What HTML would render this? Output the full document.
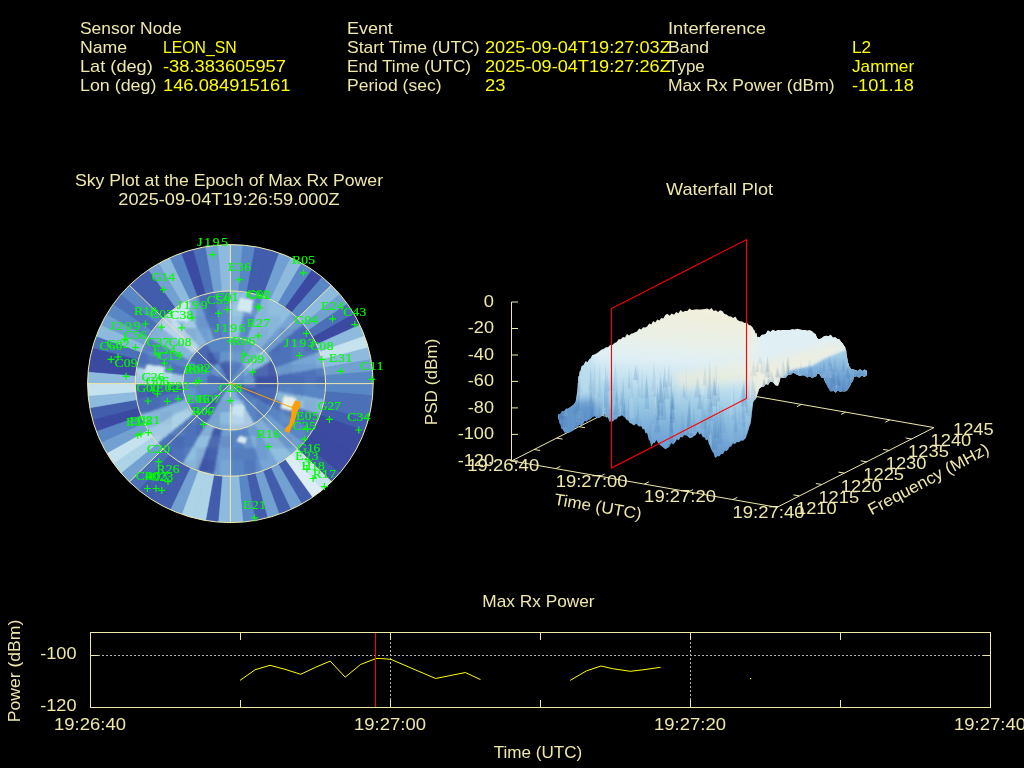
<!DOCTYPE html>
<html><head><meta charset="utf-8"><style>
html,body{margin:0;padding:0;background:#000;width:1024px;height:768px;overflow:hidden}
svg{display:block;will-change:transform}
text{font-family:"Liberation Sans",sans-serif}
.sat{font-family:"Liberation Serif",serif}
</style></head><body>
<svg width="1024" height="768" viewBox="0 0 1024 768">
<rect width="1024" height="768" fill="#000"/>
<text x="80.00" y="34.00" fill="#eee8aa" font-size="16.4" textLength="101.72" lengthAdjust="spacingAndGlyphs">Sensor Node</text>
<text x="80.00" y="53.00" fill="#eee8aa" font-size="16.4" textLength="47.22" lengthAdjust="spacingAndGlyphs">Name</text>
<text x="80.00" y="72.00" fill="#eee8aa" font-size="16.4" textLength="72.77" lengthAdjust="spacingAndGlyphs">Lat (deg)</text>
<text x="80.00" y="91.00" fill="#eee8aa" font-size="16.4" textLength="76.33" lengthAdjust="spacingAndGlyphs">Lon (deg)</text>
<text x="163.00" y="53.00" fill="#ffff00" font-size="16.4" textLength="73.72" lengthAdjust="spacingAndGlyphs">LEON_SN</text>
<text x="163.00" y="72.00" fill="#ffff00" font-size="16.4" textLength="122.94" lengthAdjust="spacingAndGlyphs">-38.383605957</text>
<text x="163.00" y="91.00" fill="#ffff00" font-size="16.4" textLength="127.34" lengthAdjust="spacingAndGlyphs">146.084915161</text>
<text x="347.00" y="34.00" fill="#eee8aa" font-size="16.4" textLength="45.84" lengthAdjust="spacingAndGlyphs">Event</text>
<text x="347.00" y="53.00" fill="#eee8aa" font-size="16.4" textLength="132.72" lengthAdjust="spacingAndGlyphs">Start Time (UTC)</text>
<text x="347.00" y="72.00" fill="#eee8aa" font-size="16.4" textLength="124.02" lengthAdjust="spacingAndGlyphs">End Time (UTC)</text>
<text x="347.00" y="91.00" fill="#eee8aa" font-size="16.4" textLength="94.50" lengthAdjust="spacingAndGlyphs">Period (sec)</text>
<text x="485.00" y="53.00" fill="#ffff00" font-size="16.4" textLength="185.72" lengthAdjust="spacingAndGlyphs">2025-09-04T19:27:03Z</text>
<text x="485.00" y="72.00" fill="#ffff00" font-size="16.4" textLength="185.72" lengthAdjust="spacingAndGlyphs">2025-09-04T19:27:26Z</text>
<text x="485.00" y="91.00" fill="#ffff00" font-size="16.4" textLength="20.38" lengthAdjust="spacingAndGlyphs">23</text>
<text x="668.00" y="34.00" fill="#eee8aa" font-size="16.4" textLength="97.91" lengthAdjust="spacingAndGlyphs">Interference</text>
<text x="668.00" y="53.00" fill="#eee8aa" font-size="16.4" textLength="41.09" lengthAdjust="spacingAndGlyphs">Band</text>
<text x="668.00" y="72.00" fill="#eee8aa" font-size="16.4" textLength="36.77" lengthAdjust="spacingAndGlyphs">Type</text>
<text x="668.00" y="91.00" fill="#eee8aa" font-size="16.4" textLength="166.61" lengthAdjust="spacingAndGlyphs">Max Rx Power (dBm)</text>
<text x="852.00" y="53.00" fill="#ffff00" font-size="16.4" textLength="19.11" lengthAdjust="spacingAndGlyphs">L2</text>
<text x="852.00" y="72.00" fill="#ffff00" font-size="16.4" textLength="62.14" lengthAdjust="spacingAndGlyphs">Jammer</text>
<text x="852.00" y="91.00" fill="#ffff00" font-size="16.4" textLength="61.81" lengthAdjust="spacingAndGlyphs">-101.18</text>
<text x="74.92" y="186.00" fill="#eee8aa" font-size="16.4" textLength="308.16" lengthAdjust="spacingAndGlyphs">Sky Plot at the Epoch of Max Rx Power</text>
<text x="118.31" y="205.00" fill="#eee8aa" font-size="16.4" textLength="221.38" lengthAdjust="spacingAndGlyphs">2025-09-04T19:26:59.000Z</text>
<path d="M90 655.5H990" stroke="#b4b4b4" stroke-width="1" stroke-dasharray="2 2" fill="none"/>
<path d="M390.5 632V707.5M690.5 632V707.5" stroke="#b4b4b4" stroke-width="1" stroke-dasharray="2 2" stroke-dashoffset="2" fill="none"/>
<path d="M240.5 632.5v7.5M240.5 707.5v-7.5M540.5 632.5v7.5M540.5 707.5v-7.5M840.5 632.5v7.5M840.5 707.5v-7.5M390.5 632.5v7.5M390.5 707.5v-7.5M690.5 632.5v7.5M690.5 707.5v-7.5M90.5 655.5h7.5M990.5 655.5h-7.5" stroke="#eee8aa" stroke-width="1" fill="none"/>
<path d="M240.0 680.4 L255.0 669.8 L270.0 665.3 L285.0 669.3 L300.7 674.3 L315.7 667.2 L330.2 661.1 L345.2 677.2 L360.5 664.5 L376.0 658.5 L380.3 658.5 L390.8 659.3 L435.6 678.5 L450.1 675.6 L465.4 672.5 L480.5 679.6 M570.2 680.4 L586.4 670.9 L601.0 666.0 L612.7 668.7 L630.3 671.3 L644.0 669.7 L660.6 667.3" stroke="#ffff00" stroke-width="1" fill="none"/>
<rect x="750" y="678" width="1.2" height="1.2" fill="#ffff00"/>
<path d="M375.5 632.5V707.5" stroke="#ff0000" stroke-width="1" fill="none"/>
<rect x="90.5" y="632.5" width="900.0" height="75.0" stroke="#eee8aa" stroke-width="1" fill="none"/>
<text x="40.16" y="659.00" fill="#eee8aa" font-size="16.4" textLength="36.34" lengthAdjust="spacingAndGlyphs">-100</text>
<text x="40.16" y="711.00" fill="#eee8aa" font-size="16.4" textLength="36.34" lengthAdjust="spacingAndGlyphs">-120</text>
<text x="54.05" y="730.00" fill="#eee8aa" font-size="16.4" textLength="71.91" lengthAdjust="spacingAndGlyphs">19:26:40</text>
<text x="354.05" y="730.00" fill="#eee8aa" font-size="16.4" textLength="71.91" lengthAdjust="spacingAndGlyphs">19:27:00</text>
<text x="654.05" y="730.00" fill="#eee8aa" font-size="16.4" textLength="71.91" lengthAdjust="spacingAndGlyphs">19:27:20</text>
<text x="954.05" y="730.00" fill="#eee8aa" font-size="16.4" textLength="71.91" lengthAdjust="spacingAndGlyphs">19:27:40</text>
<text x="482.36" y="607.00" fill="#eee8aa" font-size="16.4" textLength="112.28" lengthAdjust="spacingAndGlyphs">Max Rx Power</text>
<text x="493.74" y="758.00" fill="#eee8aa" font-size="16.4" textLength="88.52" lengthAdjust="spacingAndGlyphs">Time (UTC)</text>
<text x="-31.57" y="671.00" fill="#eee8aa" font-size="16.4" textLength="102.73" lengthAdjust="spacingAndGlyphs" transform="rotate(-90 19.8 671)">Power (dBm)</text>
<text x="666.02" y="195.00" fill="#eee8aa" font-size="16.4" textLength="106.97" lengthAdjust="spacingAndGlyphs">Waterfall Plot</text>
<path d="M511.7 460.9L668.7 381.2L934.0 427.6M534.1 449.5l6.0 1.0M556.6 438.1l6.0 1.0M579.0 426.7l6.0 1.0M601.4 415.4l6.0 1.0M623.8 404.0l6.0 1.0M646.3 392.6l6.0 1.0M712.9 388.9l-4.5 2.3M757.1 396.7l-4.5 2.3M801.4 404.4l-4.5 2.3M845.6 412.1l-4.5 2.3M889.8 419.9l-4.5 2.3" stroke="#eee8aa" stroke-width="1" fill="none"/>
<defs>
<linearGradient id="sg" gradientUnits="userSpaceOnUse" x1="0" y1="305" x2="0" y2="460" gradientTransform="translate(0,-51.4) skewY(4.9)"><stop offset="0" stop-color="#f1efdd"/><stop offset="0.17" stop-color="#eaf0e6"/><stop offset="0.32" stop-color="#e0eff5"/><stop offset="0.45" stop-color="#c4e2f0"/><stop offset="0.58" stop-color="#a3cee7"/><stop offset="0.71" stop-color="#86b7dd"/><stop offset="0.87" stop-color="#6b9fd2"/><stop offset="1" stop-color="#5b8fc6"/></linearGradient>
<linearGradient id="rg" gradientUnits="userSpaceOnUse" x1="0" y1="355" x2="0" y2="395"><stop offset="0" stop-color="#9fcbe6"/><stop offset="0.5" stop-color="#74a6d6"/><stop offset="1" stop-color="#5b8cc6"/></linearGradient>
<clipPath id="sc"><path d="M558.2 414.5 L560.2 414.1 L562.1 410.9 L564.0 411.6 L566.0 408.7 L567.8 408.8 L569.7 407.5 L571.5 406.2 L573.4 405.0 L575.2 402.5 L575.7 401.5 L576.2 399.0 L576.6 396.8 L577.1 392.2 L577.3 392.4 L577.5 389.5 L577.7 387.7 L577.8 382.9 L578.0 383.2 L578.2 380.1 L578.4 376.1 L579.1 376.5 L579.7 371.5 L580.4 371.5 L581.0 368.7 L581.7 366.3 L583.7 365.1 L585.6 361.3 L587.5 362.2 L589.5 359.1 L590.8 358.3 L592.1 355.2 L594.4 354.6 L596.7 353.2 L598.9 351.8 L601.2 349.8 L603.5 349.1 L605.8 347.2 L608.0 347.3 L610.3 344.7 L612.4 345.0 L614.5 343.0 L616.5 342.2 L618.6 339.2 L620.7 339.3 L623.0 337.0 L625.0 337.5 L627.0 334.1 L629.1 335.4 L631.1 333.8 L633.1 333.3 L635.1 332.3 L637.1 331.5 L639.1 328.4 L641.2 329.6 L643.2 327.2 L645.2 327.6 L647.2 326.4 L649.2 323.4 L651.2 324.4 L653.2 321.0 L655.2 322.5 L657.3 319.6 L659.3 320.4 L661.3 317.9 L663.3 318.4 L665.3 315.1 L667.3 313.8 L669.5 315.8 L671.7 313.4 L674.0 314.8 L676.2 312.1 L678.4 313.3 L680.6 310.0 L682.8 312.0 L685.0 310.9 L687.3 311.0 L689.5 308.6 L691.7 309.9 L693.9 309.7 L696.1 309.3 L698.3 309.6 L700.6 309.4 L702.8 309.2 L705.0 309.0 L707.2 308.6 L709.4 309.7 L711.5 307.9 L713.7 311.0 L715.8 310.3 L718.0 312.0 L720.1 310.2 L722.3 310.9 L724.5 314.0 L726.6 314.6 L728.8 316.3 L731.0 316.4 L733.2 318.1 L735.3 316.6 L737.5 320.0 L739.9 321.3 L742.2 321.6 L744.5 323.0 L746.9 322.5 L748.8 324.9 L750.8 325.5 L752.7 327.5 L753.6 329.4 L754.6 330.6 L755.5 333.5 L756.5 333.0 L757.4 338.0 L757.7 336.8 L759.7 337.2 L761.8 334.7 L763.8 334.8 L765.9 333.8 L767.9 330.6 L770.4 332.1 L772.9 329.7 L775.5 331.2 L778.0 330.1 L780.5 330.5 L783.0 329.9 L785.4 329.9 L787.7 329.9 L790.1 329.9 L792.5 329.3 L794.9 329.7 L797.2 328.8 L799.6 329.5 L802.1 330.0 L804.7 330.0 L807.2 330.7 L809.8 330.2 L812.3 331.4 L813.9 333.2 L815.5 334.1 L817.0 337.7 L818.6 339.2 L821.2 338.4 L823.7 336.4 L826.3 335.7 L828.5 336.3 L830.7 334.8 L833.0 337.7 L835.2 337.3 L837.4 339.1 L839.6 339.5 L841.0 341.7 L842.5 343.2 L843.9 345.6 L845.3 347.6 L845.7 350.2 L846.1 350.1 L846.6 354.6 L847.0 356.7 L847.4 359.1 L847.8 361.5 L848.3 363.6 L848.7 363.6 L849.1 366.1 L851.2 368.9 L853.3 369.4 L855.4 370.0 L857.7 371.0 L860.0 369.2 L862.3 371.1 L864.6 369.4 L866.9 370.7 L866.9 374.3 L866.9 377.2 L866.9 375.2 L864.4 377.1 L861.8 375.6 L859.3 377.7 L856.7 376.2 L854.2 376.7 L852.9 380.9 L851.7 382.3 L850.4 385.2 L848.5 388.6 L846.6 391.1 L844.4 391.5 L842.2 391.3 L840.0 392.0 L837.9 390.2 L835.7 392.8 L833.5 391.0 L831.3 391.2 L830.2 391.3 L829.1 388.8 L828.0 387.6 L827.0 385.1 L825.9 383.6 L824.8 381.2 L823.7 378.1 L821.6 377.7 L819.5 374.3 L817.4 373.5 L816.1 376.4 L814.8 376.5 L812.3 378.2 L809.7 376.3 L807.2 377.4 L804.6 375.5 L802.1 375.3 L799.9 376.1 L797.7 374.9 L795.4 374.1 L793.2 372.6 L790.7 375.0 L788.2 374.8 L785.6 377.9 L783.1 377.9 L780.5 377.3 L779.7 381.6 L778.8 383.5 L778.0 385.8 L775.5 385.2 L772.9 382.2 L770.4 381.6 L768.1 384.8 L765.8 384.1 L763.6 387.0 L761.3 387.0 L759.0 389.0 L758.1 392.2 L757.3 394.6 L756.4 397.5 L756.3 398.1 L755.2 399.8 L754.2 400.4 L753.1 402.8 L752.8 406.3 L752.5 407.8 L752.2 411.0 L752.0 411.3 L751.7 416.0 L751.4 417.7 L751.1 420.6 L750.8 422.4 L750.1 425.0 L749.4 426.6 L748.7 429.4 L748.0 431.3 L747.4 433.4 L746.7 434.9 L746.0 437.9 L745.3 438.5 L743.2 440.7 L741.1 440.6 L739.0 442.2 L737.0 441.9 L734.9 444.0 L732.8 443.4 L731.2 446.6 L729.7 446.8 L728.1 449.6 L726.6 451.2 L725.0 450.4 L723.1 454.0 L721.2 453.9 L719.4 456.3 L717.5 456.2 L715.6 458.1 L714.6 456.7 L713.6 453.1 L712.7 452.3 L711.7 450.2 L710.7 448.1 L709.8 445.5 L708.8 443.9 L707.8 439.6 L706.1 440.2 L704.4 437.3 L702.8 437.3 L701.1 433.4 L699.4 434.5 L697.7 431.5 L695.9 435.1 L694.0 435.9 L692.2 437.4 L689.6 438.3 L687.0 435.8 L684.4 435.0 L682.5 437.4 L680.6 437.1 L678.8 440.2 L676.9 439.2 L675.0 442.6 L673.1 444.4 L671.2 443.1 L669.4 446.8 L667.5 448.0 L665.6 449.3 L663.7 447.9 L661.9 446.4 L660.0 444.9 L658.2 443.2 L656.3 439.9 L654.7 443.3 L653.2 442.8 L651.6 446.8 L650.7 444.6 L649.7 440.6 L648.8 440.2 L647.8 435.3 L646.9 432.7 L645.5 433.6 L644.1 428.8 L642.8 429.6 L641.4 426.3 L638.9 426.6 L636.3 423.8 L633.8 425.4 L631.3 423.4 L629.7 422.9 L628.2 420.5 L626.6 419.9 L625.0 417.5 L623.5 416.5 L621.9 415.2 L620.1 416.4 L618.3 416.6 L616.5 419.2 L614.6 419.5 L612.8 421.5 L611.0 421.6 L609.4 421.5 L607.8 417.0 L606.3 418.1 L604.7 413.9 L603.1 415.0 L600.0 417.6 L597.4 418.3 L594.7 415.9 L592.1 417.3 L590.2 419.3 L588.4 419.4 L586.5 421.6 L584.6 420.8 L582.7 424.5 L580.9 425.5 L579.0 424.4 L577.0 428.0 L575.1 427.3 L573.1 430.5 L571.2 431.4 L569.2 432.4 L567.3 432.5 L564.7 432.4 L562.1 428.3 L561.3 428.5 L560.5 424.0 L559.8 424.0 L559.0 419.2 L558.2 419.4Z"/></clipPath>
<filter id="bl" x="-20%" y="-20%" width="140%" height="140%"><feGaussianBlur stdDeviation="4"/></filter>
<filter id="bl2" x="-20%" y="-20%" width="140%" height="140%"><feGaussianBlur stdDeviation="1.2"/></filter>
</defs>
<g clip-path="url(#sc)">
<rect x="550" y="300" width="330" height="170" fill="url(#sg)"/>
<g filter="url(#bl)">
<path d="M550 395 L578 392 L598 405 L605 425 L580 440 L550 440Z" fill="#6497cc"/>
<path d="M570 362 L590 355 L600 380 L585 400 L570 400Z" fill="#b8dcee" opacity="0.8"/>
<path d="M672 374 L760 360 L835 343 L848 350 L762 378 L682 390Z" fill="#f0eed8" opacity="0.7"/>
<path d="M757 320 L870 320 L870 400 L757 400Z" fill="#e0eff4"/>
<path d="M752 366 L835 343 L848 350 L790 376 L770 390 L752 400Z" fill="#f0eed9" opacity="0.75"/>
</g>
<g filter="url(#bl2)">
<path d="M778 382 L792 370 L812 366 L826 358 L846 350 L872 368 L872 384 L852 398 L828 398 L800 390Z" fill="url(#rg)"/>
</g>
<path d="M580.4 411.8L582.4 440.4L578.4 440.4Z" fill="#2f68a8" opacity="0.17"/><path d="M642.0 367.8L643.7 398.6L640.2 398.6Z" fill="#2f68a8" opacity="0.08"/><path d="M575.4 372.1L577.3 396.5L573.5 396.5Z" fill="#e8f4f8" opacity="0.09"/><path d="M713.0 370.7L714.3 396.1L711.8 396.1Z" fill="#2f68a8" opacity="0.06"/><path d="M784.3 368.8L786.6 379.0L782.0 379.0Z" fill="#e8f4f8" opacity="0.07"/><path d="M810.6 365.8L813.7 379.7L807.5 379.7Z" fill="#2f68a8" opacity="0.12"/><path d="M770.4 379.6L773.6 391.7L767.3 391.7Z" fill="#2f68a8" opacity="0.14"/><path d="M683.8 380.9L685.3 397.5L682.3 397.5Z" fill="#2f68a8" opacity="0.15"/><path d="M638.2 369.8L641.3 387.3L635.1 387.3Z" fill="#e8f4f8" opacity="0.14"/><path d="M646.3 374.5L648.5 398.3L644.0 398.3Z" fill="#2f68a8" opacity="0.11"/><path d="M640.6 417.7L643.0 461.9L638.1 461.9Z" fill="#2f68a8" opacity="0.18"/><path d="M654.7 381.4L656.8 396.4L652.6 396.4Z" fill="#2f68a8" opacity="0.12"/><path d="M621.5 390.3L623.3 405.4L619.7 405.4Z" fill="#2f68a8" opacity="0.11"/><path d="M572.8 361.3L574.5 385.5L571.0 385.5Z" fill="#2f68a8" opacity="0.12"/><path d="M789.7 371.4L792.9 388.0L786.4 388.0Z" fill="#2f68a8" opacity="0.10"/><path d="M861.3 358.7L864.0 375.4L858.6 375.4Z" fill="#2f68a8" opacity="0.16"/><path d="M832.9 370.7L836.0 387.5L829.9 387.5Z" fill="#2f68a8" opacity="0.12"/><path d="M714.3 410.1L717.4 449.2L711.2 449.2Z" fill="#2f68a8" opacity="0.17"/><path d="M769.0 372.3L770.2 383.1L767.7 383.1Z" fill="#2f68a8" opacity="0.10"/><path d="M592.1 410.1L594.7 441.9L589.5 441.9Z" fill="#2f68a8" opacity="0.14"/><path d="M709.7 360.2L712.6 399.1L706.8 399.1Z" fill="#2f68a8" opacity="0.12"/><path d="M761.7 356.7L763.5 373.5L760.0 373.5Z" fill="#2f68a8" opacity="0.09"/><path d="M783.2 360.1L786.6 377.0L779.7 377.0Z" fill="#2f68a8" opacity="0.11"/><path d="M706.6 401.0L709.2 439.0L704.0 439.0Z" fill="#2f68a8" opacity="0.07"/><path d="M605.1 375.2L607.0 412.5L603.2 412.5Z" fill="#2f68a8" opacity="0.06"/><path d="M578.6 376.1L581.4 411.3L575.8 411.3Z" fill="#2f68a8" opacity="0.09"/><path d="M718.1 387.9L719.5 416.9L716.6 416.9Z" fill="#e8f4f8" opacity="0.08"/><path d="M859.3 378.4L861.6 386.6L857.1 386.6Z" fill="#e8f4f8" opacity="0.18"/><path d="M697.5 376.1L700.9 397.4L694.2 397.4Z" fill="#2f68a8" opacity="0.13"/><path d="M603.4 391.4L604.9 435.0L601.9 435.0Z" fill="#e8f4f8" opacity="0.12"/><path d="M831.4 372.6L834.6 383.4L828.1 383.4Z" fill="#2f68a8" opacity="0.06"/><path d="M561.1 389.5L563.0 418.0L559.2 418.0Z" fill="#2f68a8" opacity="0.10"/><path d="M656.7 410.4L659.6 425.5L653.8 425.5Z" fill="#e8f4f8" opacity="0.07"/><path d="M843.5 372.8L845.3 391.6L841.6 391.6Z" fill="#2f68a8" opacity="0.11"/><path d="M865.6 369.7L867.8 382.1L863.4 382.1Z" fill="#2f68a8" opacity="0.07"/><path d="M591.1 410.1L594.5 433.6L587.8 433.6Z" fill="#2f68a8" opacity="0.09"/><path d="M716.4 371.4L719.8 397.6L713.0 397.6Z" fill="#e8f4f8" opacity="0.16"/><path d="M753.1 414.8L755.5 458.0L750.6 458.0Z" fill="#2f68a8" opacity="0.07"/><path d="M784.1 366.3L786.8 383.3L781.4 383.3Z" fill="#2f68a8" opacity="0.07"/><path d="M843.6 358.2L845.6 371.8L841.6 371.8Z" fill="#2f68a8" opacity="0.15"/><path d="M858.7 361.5L860.6 377.4L856.9 377.4Z" fill="#2f68a8" opacity="0.11"/><path d="M611.2 369.7L614.5 390.9L607.9 390.9Z" fill="#2f68a8" opacity="0.09"/><path d="M837.3 379.9L838.8 393.3L835.8 393.3Z" fill="#2f68a8" opacity="0.07"/><path d="M664.6 365.5L666.4 387.6L662.8 387.6Z" fill="#2f68a8" opacity="0.17"/><path d="M789.4 365.3L791.8 378.3L787.0 378.3Z" fill="#2f68a8" opacity="0.10"/><path d="M579.0 376.7L580.5 420.7L577.5 420.7Z" fill="#2f68a8" opacity="0.14"/><path d="M824.0 360.4L825.8 371.7L822.3 371.7Z" fill="#2f68a8" opacity="0.11"/><path d="M851.9 376.2L853.2 394.7L850.7 394.7Z" fill="#2f68a8" opacity="0.15"/><path d="M834.1 366.8L835.3 381.9L832.9 381.9Z" fill="#2f68a8" opacity="0.17"/><path d="M812.6 376.4L814.4 396.1L810.9 396.1Z" fill="#2f68a8" opacity="0.08"/><path d="M719.8 400.9L722.7 444.2L717.0 444.2Z" fill="#2f68a8" opacity="0.15"/><path d="M699.9 393.1L702.9 409.3L696.9 409.3Z" fill="#2f68a8" opacity="0.17"/><path d="M757.5 362.6L759.3 372.1L755.7 372.1Z" fill="#2f68a8" opacity="0.14"/><path d="M594.3 364.2L596.9 395.0L591.8 395.0Z" fill="#2f68a8" opacity="0.09"/><path d="M743.9 360.6L746.2 384.7L741.7 384.7Z" fill="#e8f4f8" opacity="0.14"/><path d="M830.4 366.9L832.2 377.7L828.7 377.7Z" fill="#e8f4f8" opacity="0.14"/><path d="M654.1 361.3L656.8 391.3L651.3 391.3Z" fill="#2f68a8" opacity="0.09"/><path d="M764.2 378.1L765.5 388.9L762.9 388.9Z" fill="#2f68a8" opacity="0.11"/><path d="M768.9 360.0L771.8 377.5L766.0 377.5Z" fill="#2f68a8" opacity="0.08"/><path d="M856.8 362.8L858.5 380.6L855.0 380.6Z" fill="#2f68a8" opacity="0.15"/><path d="M650.2 417.1L651.9 447.0L648.6 447.0Z" fill="#2f68a8" opacity="0.11"/><path d="M763.6 378.7L765.7 388.5L761.5 388.5Z" fill="#2f68a8" opacity="0.18"/><path d="M603.4 363.1L605.5 379.9L601.3 379.9Z" fill="#e8f4f8" opacity="0.17"/><path d="M784.2 379.9L786.2 399.1L782.3 399.1Z" fill="#2f68a8" opacity="0.17"/><path d="M788.4 355.8L790.4 371.8L786.3 371.8Z" fill="#2f68a8" opacity="0.10"/><path d="M611.8 360.2L613.8 383.6L609.8 383.6Z" fill="#e8f4f8" opacity="0.07"/><path d="M855.1 360.2L858.2 372.5L852.0 372.5Z" fill="#e8f4f8" opacity="0.11"/><path d="M575.1 388.4L578.4 414.6L571.8 414.6Z" fill="#2f68a8" opacity="0.10"/><path d="M834.5 355.8L837.5 368.7L831.4 368.7Z" fill="#e8f4f8" opacity="0.06"/><path d="M570.7 363.8L572.5 406.4L568.9 406.4Z" fill="#2f68a8" opacity="0.17"/><path d="M663.8 376.3L666.4 420.1L661.1 420.1Z" fill="#2f68a8" opacity="0.15"/><path d="M656.8 376.5L659.8 391.7L653.9 391.7Z" fill="#e8f4f8" opacity="0.14"/><path d="M848.6 355.6L850.9 366.4L846.3 366.4Z" fill="#e8f4f8" opacity="0.17"/><path d="M678.3 375.1L680.6 403.0L675.9 403.0Z" fill="#e8f4f8" opacity="0.08"/><path d="M805.6 373.5L808.6 391.3L802.6 391.3Z" fill="#2f68a8" opacity="0.10"/><path d="M657.8 381.7L659.2 420.2L656.4 420.2Z" fill="#2f68a8" opacity="0.15"/><path d="M635.7 363.9L638.1 379.9L633.2 379.9Z" fill="#2f68a8" opacity="0.18"/><path d="M830.3 379.7L831.7 390.9L828.9 390.9Z" fill="#2f68a8" opacity="0.12"/><path d="M777.2 366.2L779.3 377.0L775.0 377.0Z" fill="#2f68a8" opacity="0.14"/><path d="M788.9 376.2L790.4 392.1L787.4 392.1Z" fill="#e8f4f8" opacity="0.10"/><path d="M733.5 382.4L735.1 419.5L731.8 419.5Z" fill="#2f68a8" opacity="0.09"/><path d="M606.9 413.1L608.9 445.4L605.0 445.4Z" fill="#2f68a8" opacity="0.18"/><path d="M715.2 373.9L717.9 413.1L712.5 413.1Z" fill="#e8f4f8" opacity="0.07"/><path d="M705.3 409.1L708.6 449.4L702.0 449.4Z" fill="#2f68a8" opacity="0.10"/><path d="M596.5 371.4L599.0 415.6L593.9 415.6Z" fill="#e8f4f8" opacity="0.10"/><path d="M825.0 366.2L828.0 377.3L822.0 377.3Z" fill="#e8f4f8" opacity="0.07"/><path d="M742.4 397.2L744.5 418.7L740.4 418.7Z" fill="#2f68a8" opacity="0.08"/><path d="M638.0 396.0L639.7 430.5L636.3 430.5Z" fill="#2f68a8" opacity="0.10"/><path d="M767.6 359.6L769.2 371.4L765.9 371.4Z" fill="#e8f4f8" opacity="0.13"/><path d="M579.4 366.1L581.8 392.9L576.9 392.9Z" fill="#2f68a8" opacity="0.07"/><path d="M610.1 401.7L611.9 429.0L608.2 429.0Z" fill="#2f68a8" opacity="0.17"/><path d="M655.6 394.0L657.7 419.7L653.4 419.7Z" fill="#e8f4f8" opacity="0.18"/><path d="M671.3 371.8L673.0 408.7L669.6 408.7Z" fill="#2f68a8" opacity="0.17"/><path d="M689.7 409.2L692.9 436.4L686.4 436.4Z" fill="#2f68a8" opacity="0.08"/><path d="M564.5 393.1L567.8 427.3L561.2 427.3Z" fill="#2f68a8" opacity="0.13"/><path d="M673.5 390.3L675.3 409.6L671.6 409.6Z" fill="#2f68a8" opacity="0.17"/><path d="M593.3 389.4L596.7 428.6L589.9 428.6Z" fill="#2f68a8" opacity="0.08"/><path d="M848.6 379.4L849.9 393.2L847.3 393.2Z" fill="#e8f4f8" opacity="0.11"/><path d="M836.7 370.5L838.3 388.4L835.1 388.4Z" fill="#e8f4f8" opacity="0.09"/><path d="M683.8 410.8L685.4 450.7L682.2 450.7Z" fill="#2f68a8" opacity="0.11"/><path d="M718.5 383.0L720.2 401.7L716.7 401.7Z" fill="#2f68a8" opacity="0.17"/><path d="M572.6 393.7L573.9 431.5L571.3 431.5Z" fill="#e8f4f8" opacity="0.07"/><path d="M743.5 393.0L745.4 426.8L741.5 426.8Z" fill="#2f68a8" opacity="0.13"/><path d="M690.3 399.5L692.5 427.9L688.1 427.9Z" fill="#2f68a8" opacity="0.13"/><path d="M709.8 374.1L712.8 412.0L706.8 412.0Z" fill="#2f68a8" opacity="0.08"/><path d="M704.8 366.4L707.0 385.3L702.6 385.3Z" fill="#2f68a8" opacity="0.11"/><path d="M716.1 362.4L717.5 396.5L714.7 396.5Z" fill="#2f68a8" opacity="0.15"/><path d="M716.5 363.3L718.6 393.4L714.4 393.4Z" fill="#e8f4f8" opacity="0.08"/><path d="M822.3 379.9L825.3 396.7L819.2 396.7Z" fill="#2f68a8" opacity="0.18"/><path d="M710.5 417.4L712.1 459.9L708.9 459.9Z" fill="#e8f4f8" opacity="0.17"/><path d="M580.0 381.1L581.6 418.7L578.5 418.7Z" fill="#e8f4f8" opacity="0.09"/><path d="M809.6 358.6L812.9 372.6L806.3 372.6Z" fill="#2f68a8" opacity="0.09"/><path d="M714.8 379.1L716.5 395.2L713.2 395.2Z" fill="#2f68a8" opacity="0.17"/><path d="M768.0 377.4L771.0 387.4L765.0 387.4Z" fill="#2f68a8" opacity="0.12"/><path d="M754.7 381.6L757.2 422.8L752.2 422.8Z" fill="#2f68a8" opacity="0.17"/><path d="M592.0 419.6L594.1 453.5L589.9 453.5Z" fill="#e8f4f8" opacity="0.09"/><path d="M863.1 369.4L866.1 381.8L860.1 381.8Z" fill="#2f68a8" opacity="0.08"/><path d="M787.5 356.2L789.3 374.0L785.8 374.0Z" fill="#2f68a8" opacity="0.18"/><path d="M739.3 399.8L740.5 424.2L738.1 424.2Z" fill="#2f68a8" opacity="0.08"/><path d="M748.5 385.9L751.8 416.3L745.3 416.3Z" fill="#2f68a8" opacity="0.09"/><path d="M759.9 355.6L761.9 363.6L757.8 363.6Z" fill="#2f68a8" opacity="0.10"/><path d="M628.6 395.0L630.3 427.7L627.0 427.7Z" fill="#2f68a8" opacity="0.12"/><path d="M601.2 416.2L602.8 438.5L599.7 438.5Z" fill="#2f68a8" opacity="0.14"/><path d="M826.6 374.6L828.4 387.4L824.8 387.4Z" fill="#2f68a8" opacity="0.14"/><path d="M732.1 381.0L734.3 415.4L729.9 415.4Z" fill="#e8f4f8" opacity="0.15"/><path d="M636.0 414.2L638.5 430.5L633.6 430.5Z" fill="#2f68a8" opacity="0.09"/><path d="M577.9 406.7L580.3 422.1L575.4 422.1Z" fill="#e8f4f8" opacity="0.08"/><path d="M621.1 396.5L623.7 426.7L618.4 426.7Z" fill="#e8f4f8" opacity="0.08"/><path d="M654.7 378.0L657.9 394.5L651.4 394.5Z" fill="#e8f4f8" opacity="0.15"/><path d="M561.9 410.7L564.2 448.0L559.7 448.0Z" fill="#2f68a8" opacity="0.11"/><path d="M629.1 366.3L630.4 388.3L627.9 388.3Z" fill="#2f68a8" opacity="0.15"/><path d="M772.7 376.1L774.5 392.7L770.9 392.7Z" fill="#2f68a8" opacity="0.11"/><path d="M801.3 368.1L803.9 379.3L798.6 379.3Z" fill="#e8f4f8" opacity="0.09"/><path d="M829.3 355.4L831.0 366.5L827.6 366.5Z" fill="#2f68a8" opacity="0.17"/><path d="M788.3 363.2L790.3 381.7L786.4 381.7Z" fill="#2f68a8" opacity="0.17"/><path d="M753.0 401.6L756.4 436.5L749.5 436.5Z" fill="#2f68a8" opacity="0.16"/><path d="M773.5 376.4L776.3 389.7L770.6 389.7Z" fill="#2f68a8" opacity="0.10"/><path d="M624.9 397.4L628.2 414.7L621.6 414.7Z" fill="#2f68a8" opacity="0.06"/><path d="M592.6 415.7L594.2 441.1L591.1 441.1Z" fill="#2f68a8" opacity="0.06"/><path d="M771.9 370.8L774.8 387.2L769.0 387.2Z" fill="#2f68a8" opacity="0.13"/><path d="M671.2 409.1L674.5 448.6L668.0 448.6Z" fill="#2f68a8" opacity="0.16"/><path d="M839.8 378.6L841.5 387.9L838.1 387.9Z" fill="#2f68a8" opacity="0.06"/><path d="M819.4 375.3L822.5 390.9L816.3 390.9Z" fill="#2f68a8" opacity="0.09"/><path d="M590.6 365.9L592.2 403.6L588.9 403.6Z" fill="#2f68a8" opacity="0.11"/><path d="M566.4 375.4L569.2 398.9L563.6 398.9Z" fill="#2f68a8" opacity="0.10"/><path d="M855.0 367.6L857.6 385.8L852.4 385.8Z" fill="#2f68a8" opacity="0.11"/><path d="M693.6 406.4L696.4 431.8L690.7 431.8Z" fill="#2f68a8" opacity="0.09"/><path d="M823.8 357.3L825.4 375.1L822.3 375.1Z" fill="#2f68a8" opacity="0.08"/><path d="M793.2 379.4L795.6 387.5L790.9 387.5Z" fill="#2f68a8" opacity="0.16"/><path d="M616.5 389.7L619.6 415.1L613.3 415.1Z" fill="#2f68a8" opacity="0.17"/><path d="M646.8 372.9L649.2 408.9L644.5 408.9Z" fill="#2f68a8" opacity="0.14"/><path d="M584.8 407.3L587.8 443.2L581.7 443.2Z" fill="#2f68a8" opacity="0.10"/><path d="M682.8 383.7L684.2 425.4L681.4 425.4Z" fill="#e8f4f8" opacity="0.06"/><path d="M623.1 375.8L625.4 417.8L620.7 417.8Z" fill="#2f68a8" opacity="0.17"/><path d="M631.5 387.7L634.4 418.6L628.5 418.6Z" fill="#e8f4f8" opacity="0.14"/><path d="M666.6 379.6L669.8 399.3L663.5 399.3Z" fill="#2f68a8" opacity="0.15"/><path d="M611.9 386.3L614.4 424.5L609.4 424.5Z" fill="#2f68a8" opacity="0.12"/><path d="M830.8 360.9L832.7 371.2L829.0 371.2Z" fill="#2f68a8" opacity="0.16"/><path d="M607.3 369.4L609.3 391.8L605.4 391.8Z" fill="#2f68a8" opacity="0.08"/><path d="M660.4 371.4L663.3 415.6L657.5 415.6Z" fill="#2f68a8" opacity="0.18"/><path d="M591.1 383.1L594.1 427.6L588.1 427.6Z" fill="#2f68a8" opacity="0.11"/><path d="M620.0 398.3L621.7 416.5L618.4 416.5Z" fill="#2f68a8" opacity="0.06"/><path d="M682.1 407.5L684.5 443.3L679.7 443.3Z" fill="#2f68a8" opacity="0.12"/><path d="M603.4 396.2L606.3 423.4L600.5 423.4Z" fill="#e8f4f8" opacity="0.11"/><path d="M735.6 404.9L737.4 432.6L733.9 432.6Z" fill="#2f68a8" opacity="0.17"/><path d="M796.9 372.5L799.6 390.7L794.1 390.7Z" fill="#2f68a8" opacity="0.11"/><path d="M655.8 397.7L657.9 415.6L653.6 415.6Z" fill="#e8f4f8" opacity="0.15"/><path d="M752.7 375.0L754.9 402.7L750.4 402.7Z" fill="#2f68a8" opacity="0.11"/><path d="M766.6 378.3L769.3 388.5L763.9 388.5Z" fill="#e8f4f8" opacity="0.11"/><path d="M709.9 418.5L712.3 434.6L707.4 434.6Z" fill="#2f68a8" opacity="0.15"/><path d="M847.8 368.0L850.3 377.2L845.3 377.2Z" fill="#2f68a8" opacity="0.15"/><path d="M716.7 398.4L719.1 438.2L714.3 438.2Z" fill="#2f68a8" opacity="0.17"/><path d="M624.3 401.1L627.2 427.8L621.3 427.8Z" fill="#2f68a8" opacity="0.18"/><path d="M668.8 363.4L670.9 386.6L666.7 386.6Z" fill="#2f68a8" opacity="0.11"/><path d="M688.7 401.9L690.5 427.5L686.9 427.5Z" fill="#2f68a8" opacity="0.15"/><path d="M847.6 368.2L850.7 378.8L844.6 378.8Z" fill="#2f68a8" opacity="0.09"/><path d="M599.6 406.6L602.2 445.9L596.9 445.9Z" fill="#2f68a8" opacity="0.13"/><path d="M629.2 417.8L631.8 443.4L626.5 443.4Z" fill="#e8f4f8" opacity="0.16"/><path d="M703.2 377.7L704.7 409.1L701.8 409.1Z" fill="#e8f4f8" opacity="0.10"/><path d="M820.3 361.7L822.1 374.2L818.5 374.2Z" fill="#2f68a8" opacity="0.08"/><path d="M560.8 403.3L562.6 426.7L559.1 426.7Z" fill="#2f68a8" opacity="0.12"/><path d="M691.1 398.2L693.2 433.0L689.1 433.0Z" fill="#e8f4f8" opacity="0.16"/><path d="M577.5 409.7L580.5 451.8L574.5 451.8Z" fill="#2f68a8" opacity="0.16"/><path d="M753.7 360.9L757.1 376.2L750.4 376.2Z" fill="#2f68a8" opacity="0.09"/><path d="M591.1 368.6L594.0 390.6L588.1 390.6Z" fill="#2f68a8" opacity="0.08"/><path d="M836.7 374.8L839.9 384.8L833.4 384.8Z" fill="#2f68a8" opacity="0.15"/><path d="M764.5 377.3L767.7 394.8L761.4 394.8Z" fill="#2f68a8" opacity="0.14"/><path d="M722.4 404.5L725.7 432.7L719.2 432.7Z" fill="#2f68a8" opacity="0.09"/><path d="M631.7 368.4L633.0 398.2L630.3 398.2Z" fill="#2f68a8" opacity="0.08"/><path d="M710.4 389.9L713.5 421.1L707.2 421.1Z" fill="#2f68a8" opacity="0.16"/><path d="M703.2 393.8L706.3 428.7L700.1 428.7Z" fill="#2f68a8" opacity="0.11"/><path d="M853.9 356.9L856.6 372.5L851.3 372.5Z" fill="#2f68a8" opacity="0.13"/><path d="M768.9 378.3L772.3 390.3L765.4 390.3Z" fill="#2f68a8" opacity="0.12"/><path d="M834.7 355.8L837.3 372.5L832.0 372.5Z" fill="#2f68a8" opacity="0.16"/><path d="M672.0 388.5L675.0 419.2L669.1 419.2Z" fill="#2f68a8" opacity="0.11"/><path d="M689.3 393.2L691.1 433.0L687.4 433.0Z" fill="#e8f4f8" opacity="0.11"/><path d="M714.1 376.3L717.6 406.5L710.7 406.5Z" fill="#2f68a8" opacity="0.16"/><path d="M661.3 379.0L663.8 403.0L658.7 403.0Z" fill="#2f68a8" opacity="0.15"/><path d="M572.3 403.4L574.7 444.9L569.8 444.9Z" fill="#2f68a8" opacity="0.10"/><path d="M561.9 371.4L564.5 414.0L559.3 414.0Z" fill="#2f68a8" opacity="0.15"/><path d="M838.4 370.3L841.0 385.7L835.8 385.7Z" fill="#2f68a8" opacity="0.13"/><path d="M768.4 360.3L770.6 376.3L766.1 376.3Z" fill="#e8f4f8" opacity="0.07"/><path d="M615.5 362.2L618.8 400.5L612.2 400.5Z" fill="#2f68a8" opacity="0.10"/><path d="M811.7 374.7L813.5 389.4L809.9 389.4Z" fill="#2f68a8" opacity="0.11"/><path d="M657.5 385.8L660.8 420.1L654.1 420.1Z" fill="#2f68a8" opacity="0.13"/><path d="M572.1 367.1L574.6 406.4L569.5 406.4Z" fill="#e8f4f8" opacity="0.11"/><path d="M564.3 383.2L567.7 416.0L561.0 416.0Z" fill="#e8f4f8" opacity="0.12"/><path d="M686.2 366.1L687.9 400.5L684.5 400.5Z" fill="#2f68a8" opacity="0.06"/><path d="M561.5 401.0L564.9 419.7L558.0 419.7Z" fill="#2f68a8" opacity="0.16"/><path d="M599.5 361.1L601.2 397.6L597.7 397.6Z" fill="#2f68a8" opacity="0.08"/><path d="M575.3 406.4L578.5 442.8L572.2 442.8Z" fill="#2f68a8" opacity="0.07"/><path d="M752.4 402.6L755.7 431.4L749.0 431.4Z" fill="#2f68a8" opacity="0.18"/><path d="M779.5 355.3L782.2 363.5L776.8 363.5Z" fill="#e8f4f8" opacity="0.07"/><path d="M655.2 403.8L658.4 423.7L652.0 423.7Z" fill="#2f68a8" opacity="0.07"/><path d="M672.5 394.5L675.2 422.7L669.7 422.7Z" fill="#2f68a8" opacity="0.16"/><path d="M671.2 398.7L673.3 432.6L669.0 432.6Z" fill="#2f68a8" opacity="0.15"/><path d="M849.1 374.6L851.0 389.4L847.3 389.4Z" fill="#2f68a8" opacity="0.18"/><path d="M775.2 375.7L777.8 387.7L772.6 387.7Z" fill="#e8f4f8" opacity="0.16"/><path d="M743.9 378.5L747.2 406.4L740.7 406.4Z" fill="#2f68a8" opacity="0.14"/><path d="M744.1 413.8L746.0 453.0L742.3 453.0Z" fill="#2f68a8" opacity="0.09"/><path d="M689.3 395.2L692.5 434.7L686.0 434.7Z" fill="#2f68a8" opacity="0.16"/><path d="M808.4 376.7L810.2 391.5L806.6 391.5Z" fill="#e8f4f8" opacity="0.16"/><path d="M769.5 377.8L770.9 390.0L768.1 390.0Z" fill="#2f68a8" opacity="0.16"/><path d="M621.3 405.0L623.1 448.0L619.6 448.0Z" fill="#2f68a8" opacity="0.14"/><path d="M702.4 372.4L705.3 395.0L699.5 395.0Z" fill="#e8f4f8" opacity="0.12"/><path d="M586.8 408.4L588.6 446.6L585.1 446.6Z" fill="#2f68a8" opacity="0.17"/><path d="M830.8 368.0L833.4 381.8L828.3 381.8Z" fill="#2f68a8" opacity="0.08"/><path d="M615.3 402.1L617.8 427.9L612.8 427.9Z" fill="#2f68a8" opacity="0.12"/><path d="M605.6 362.7L607.7 407.6L603.5 407.6Z" fill="#2f68a8" opacity="0.14"/><path d="M800.9 358.9L802.9 374.1L798.9 374.1Z" fill="#2f68a8" opacity="0.06"/><path d="M570.3 419.4L572.6 460.4L568.0 460.4Z" fill="#2f68a8" opacity="0.09"/><path d="M798.4 365.6L801.4 385.0L795.5 385.0Z" fill="#e8f4f8" opacity="0.18"/><path d="M637.7 362.3L639.3 383.3L636.1 383.3Z" fill="#2f68a8" opacity="0.07"/><path d="M730.6 412.2L733.9 441.0L727.2 441.0Z" fill="#e8f4f8" opacity="0.07"/><path d="M743.0 383.8L746.4 402.4L739.6 402.4Z" fill="#2f68a8" opacity="0.13"/><path d="M756.0 417.4L758.1 452.5L753.9 452.5Z" fill="#2f68a8" opacity="0.08"/><path d="M855.5 379.8L856.8 390.5L854.2 390.5Z" fill="#2f68a8" opacity="0.10"/><path d="M836.2 377.6L837.6 395.7L834.9 395.7Z" fill="#e8f4f8" opacity="0.15"/><path d="M757.9 379.6L759.4 388.3L756.4 388.3Z" fill="#e8f4f8" opacity="0.17"/><path d="M767.1 362.5L770.1 377.6L764.2 377.6Z" fill="#2f68a8" opacity="0.10"/><path d="M638.6 367.4L640.2 396.9L637.1 396.9Z" fill="#2f68a8" opacity="0.08"/><path d="M767.4 355.3L769.0 371.9L765.7 371.9Z" fill="#2f68a8" opacity="0.17"/><path d="M627.5 416.0L630.7 457.0L624.2 457.0Z" fill="#2f68a8" opacity="0.11"/><path d="M589.7 415.7L592.3 456.0L587.0 456.0Z" fill="#2f68a8" opacity="0.10"/><path d="M811.9 366.9L813.4 382.5L810.3 382.5Z" fill="#2f68a8" opacity="0.07"/><path d="M778.4 368.8L781.6 378.6L775.2 378.6Z" fill="#2f68a8" opacity="0.11"/><path d="M607.6 376.3L609.6 416.5L605.7 416.5Z" fill="#2f68a8" opacity="0.12"/><path d="M657.3 414.2L660.8 432.6L653.9 432.6Z" fill="#2f68a8" opacity="0.17"/><path d="M764.5 360.3L766.4 374.0L762.6 374.0Z" fill="#2f68a8" opacity="0.08"/><path d="M671.5 419.5L674.8 464.4L668.1 464.4Z" fill="#2f68a8" opacity="0.09"/><path d="M834.2 356.4L836.1 373.2L832.4 373.2Z" fill="#e8f4f8" opacity="0.06"/><path d="M806.9 363.5L808.2 373.2L805.7 373.2Z" fill="#e8f4f8" opacity="0.12"/><path d="M616.9 386.1L618.6 428.5L615.2 428.5Z" fill="#2f68a8" opacity="0.08"/><path d="M615.1 406.2L616.8 442.6L613.5 442.6Z" fill="#2f68a8" opacity="0.07"/><path d="M746.2 389.7L747.9 412.9L744.5 412.9Z" fill="#2f68a8" opacity="0.14"/><path d="M808.3 369.6L809.7 380.0L807.0 380.0Z" fill="#2f68a8" opacity="0.11"/><path d="M780.8 356.4L782.8 374.1L778.9 374.1Z" fill="#e8f4f8" opacity="0.16"/><path d="M710.9 360.9L713.2 403.2L708.6 403.2Z" fill="#e8f4f8" opacity="0.09"/><path d="M616.9 409.9L618.5 435.9L615.4 435.9Z" fill="#2f68a8" opacity="0.13"/><path d="M561.4 391.2L563.8 419.6L559.0 419.6Z" fill="#2f68a8" opacity="0.15"/>
</g>
<path d="M511.7 460.9L777.0 507.3L934.0 427.6M511.5 302.0V460.9M555.9 468.6l4.5 -2.3M600.1 476.4l4.5 -2.3M644.4 484.1l4.5 -2.3M688.6 491.8l4.5 -2.3M732.8 499.6l4.5 -2.3M799.4 495.9l-6.0 -1.0M821.9 484.5l-6.0 -1.0M844.3 473.1l-6.0 -1.0M866.7 461.8l-6.0 -1.0M889.1 450.4l-6.0 -1.0M911.6 439.0l-6.0 -1.0M511.5 460.9h6.5M511.5 434.4h6.5M511.5 407.9h6.5M511.5 381.4h6.5M511.5 355.0h6.5M511.5 328.5h6.5M511.5 302.0h6.5" stroke="#eee8aa" stroke-width="1" fill="none"/>
<text x="457.66" y="465.90" fill="#eee8aa" font-size="16.4" textLength="36.34" lengthAdjust="spacingAndGlyphs">-120</text>
<text x="457.66" y="439.42" fill="#eee8aa" font-size="16.4" textLength="36.34" lengthAdjust="spacingAndGlyphs">-100</text>
<text x="467.84" y="412.93" fill="#eee8aa" font-size="16.4" textLength="26.16" lengthAdjust="spacingAndGlyphs">-80</text>
<text x="467.84" y="386.45" fill="#eee8aa" font-size="16.4" textLength="26.16" lengthAdjust="spacingAndGlyphs">-60</text>
<text x="467.84" y="359.97" fill="#eee8aa" font-size="16.4" textLength="26.16" lengthAdjust="spacingAndGlyphs">-40</text>
<text x="467.84" y="333.48" fill="#eee8aa" font-size="16.4" textLength="26.16" lengthAdjust="spacingAndGlyphs">-20</text>
<text x="483.81" y="307.00" fill="#eee8aa" font-size="16.4" textLength="10.19" lengthAdjust="spacingAndGlyphs">0</text>
<text x="467.25" y="471.40" fill="#eee8aa" font-size="16.4" textLength="71.91" lengthAdjust="spacingAndGlyphs">19:26:40</text>
<text x="555.68" y="486.87" fill="#eee8aa" font-size="16.4" textLength="71.91" lengthAdjust="spacingAndGlyphs">19:27:00</text>
<text x="644.11" y="502.33" fill="#eee8aa" font-size="16.4" textLength="71.91" lengthAdjust="spacingAndGlyphs">19:27:20</text>
<text x="732.55" y="517.80" fill="#eee8aa" font-size="16.4" textLength="71.91" lengthAdjust="spacingAndGlyphs">19:27:40</text>
<text x="796.00" y="514.30" fill="#eee8aa" font-size="16.4" textLength="40.75" lengthAdjust="spacingAndGlyphs">1210</text>
<text x="818.43" y="502.91" fill="#eee8aa" font-size="16.4" textLength="40.75" lengthAdjust="spacingAndGlyphs">1215</text>
<text x="840.86" y="491.53" fill="#eee8aa" font-size="16.4" textLength="40.75" lengthAdjust="spacingAndGlyphs">1220</text>
<text x="863.29" y="480.14" fill="#eee8aa" font-size="16.4" textLength="40.75" lengthAdjust="spacingAndGlyphs">1225</text>
<text x="885.71" y="468.76" fill="#eee8aa" font-size="16.4" textLength="40.75" lengthAdjust="spacingAndGlyphs">1230</text>
<text x="908.14" y="457.37" fill="#eee8aa" font-size="16.4" textLength="40.75" lengthAdjust="spacingAndGlyphs">1235</text>
<text x="930.57" y="445.99" fill="#eee8aa" font-size="16.4" textLength="40.75" lengthAdjust="spacingAndGlyphs">1240</text>
<text x="953.00" y="434.60" fill="#eee8aa" font-size="16.4" textLength="40.75" lengthAdjust="spacingAndGlyphs">1245</text>
<text x="552.74" y="512.00" fill="#eee8aa" font-size="16.4" textLength="88.52" lengthAdjust="spacingAndGlyphs" transform="rotate(9.8 597 512)">Time (UTC)</text>
<text x="863.74" y="484.00" fill="#eee8aa" font-size="16.4" textLength="134.52" lengthAdjust="spacingAndGlyphs" transform="rotate(-28 931 484)">Frequency (MHz)</text>
<text x="393.77" y="382.00" fill="#eee8aa" font-size="16.4" textLength="86.47" lengthAdjust="spacingAndGlyphs" transform="rotate(-90 437 382)">PSD (dBm)</text>
<path d="M611.5 468L611.5 308.6L746.5 239.6L746.5 398.5Z" stroke="#ff0000" stroke-width="1.1" fill="none"/>
<clipPath id="skc"><ellipse cx="230.4" cy="383.6" rx="142.8" ry="139.0"/></clipPath>
<filter id="hb" x="-5%" y="-5%" width="110%" height="110%"><feGaussianBlur stdDeviation="1.0"/></filter>
<g clip-path="url(#skc)"><g filter="url(#hb)" shape-rendering="crispEdges">
<rect x="86" y="242" width="292" height="284" fill="#5a88c5"/>
<rect x="136" y="244" width="12" height="12" fill="#4565b0"/>
<rect x="148" y="244" width="12" height="12" fill="#5a88c5"/>
<rect x="160" y="244" width="12" height="12" fill="#5a88c5"/>
<rect x="172" y="244" width="12" height="12" fill="#5a88c5"/>
<rect x="184" y="244" width="12" height="12" fill="#5a88c5"/>
<rect x="196" y="244" width="12" height="12" fill="#4565b0"/>
<rect x="208" y="244" width="12" height="12" fill="#5a88c5"/>
<rect x="220" y="244" width="12" height="12" fill="#84b4da"/>
<rect x="232" y="244" width="12" height="12" fill="#84b4da"/>
<rect x="244" y="244" width="12" height="12" fill="#5a88c5"/>
<rect x="256" y="244" width="12" height="12" fill="#5a88c5"/>
<rect x="268" y="244" width="12" height="12" fill="#5a88c5"/>
<rect x="280" y="244" width="12" height="12" fill="#84b4da"/>
<rect x="292" y="244" width="12" height="12" fill="#5a88c5"/>
<rect x="304" y="244" width="12" height="12" fill="#5a88c5"/>
<rect x="316" y="244" width="12" height="12" fill="#4565b0"/>
<rect x="124" y="256" width="12" height="12" fill="#4565b0"/>
<rect x="136" y="256" width="12" height="12" fill="#4565b0"/>
<rect x="148" y="256" width="12" height="12" fill="#4565b0"/>
<rect x="160" y="256" width="12" height="12" fill="#5a88c5"/>
<rect x="172" y="256" width="12" height="12" fill="#5a88c5"/>
<rect x="184" y="256" width="12" height="12" fill="#5a88c5"/>
<rect x="196" y="256" width="12" height="12" fill="#4565b0"/>
<rect x="208" y="256" width="12" height="12" fill="#4565b0"/>
<rect x="220" y="256" width="12" height="12" fill="#5a88c5"/>
<rect x="232" y="256" width="12" height="12" fill="#84b4da"/>
<rect x="244" y="256" width="12" height="12" fill="#5a88c5"/>
<rect x="256" y="256" width="12" height="12" fill="#4565b0"/>
<rect x="268" y="256" width="12" height="12" fill="#5a88c5"/>
<rect x="280" y="256" width="12" height="12" fill="#84b4da"/>
<rect x="292" y="256" width="12" height="12" fill="#5a88c5"/>
<rect x="304" y="256" width="12" height="12" fill="#4565b0"/>
<rect x="316" y="256" width="12" height="12" fill="#4565b0"/>
<rect x="328" y="256" width="12" height="12" fill="#5a88c5"/>
<rect x="112" y="268" width="12" height="12" fill="#3b49a0"/>
<rect x="124" y="268" width="12" height="12" fill="#4565b0"/>
<rect x="136" y="268" width="12" height="12" fill="#4565b0"/>
<rect x="148" y="268" width="12" height="12" fill="#4565b0"/>
<rect x="160" y="268" width="12" height="12" fill="#4565b0"/>
<rect x="172" y="268" width="12" height="12" fill="#5a88c5"/>
<rect x="184" y="268" width="12" height="12" fill="#5a88c5"/>
<rect x="196" y="268" width="12" height="12" fill="#4565b0"/>
<rect x="208" y="268" width="12" height="12" fill="#3b49a0"/>
<rect x="220" y="268" width="12" height="12" fill="#5a88c5"/>
<rect x="232" y="268" width="12" height="12" fill="#5a88c5"/>
<rect x="244" y="268" width="12" height="12" fill="#4565b0"/>
<rect x="256" y="268" width="12" height="12" fill="#3b49a0"/>
<rect x="268" y="268" width="12" height="12" fill="#4565b0"/>
<rect x="280" y="268" width="12" height="12" fill="#84b4da"/>
<rect x="292" y="268" width="12" height="12" fill="#4565b0"/>
<rect x="304" y="268" width="12" height="12" fill="#4565b0"/>
<rect x="316" y="268" width="12" height="12" fill="#5a88c5"/>
<rect x="328" y="268" width="12" height="12" fill="#5a88c5"/>
<rect x="340" y="268" width="12" height="12" fill="#84b4da"/>
<rect x="100" y="280" width="12" height="12" fill="#5a88c5"/>
<rect x="112" y="280" width="12" height="12" fill="#4565b0"/>
<rect x="124" y="280" width="12" height="12" fill="#3b49a0"/>
<rect x="136" y="280" width="12" height="12" fill="#4565b0"/>
<rect x="148" y="280" width="12" height="12" fill="#4565b0"/>
<rect x="160" y="280" width="12" height="12" fill="#5a88c5"/>
<rect x="172" y="280" width="12" height="12" fill="#4565b0"/>
<rect x="184" y="280" width="12" height="12" fill="#4565b0"/>
<rect x="196" y="280" width="12" height="12" fill="#4565b0"/>
<rect x="208" y="280" width="12" height="12" fill="#3b49a0"/>
<rect x="220" y="280" width="12" height="12" fill="#5a88c5"/>
<rect x="232" y="280" width="12" height="12" fill="#4565b0"/>
<rect x="244" y="280" width="12" height="12" fill="#5a88c5"/>
<rect x="256" y="280" width="12" height="12" fill="#84b4da"/>
<rect x="268" y="280" width="12" height="12" fill="#5a88c5"/>
<rect x="280" y="280" width="12" height="12" fill="#5a88c5"/>
<rect x="292" y="280" width="12" height="12" fill="#5a88c5"/>
<rect x="304" y="280" width="12" height="12" fill="#3b49a0"/>
<rect x="316" y="280" width="12" height="12" fill="#5a88c5"/>
<rect x="328" y="280" width="12" height="12" fill="#84b4da"/>
<rect x="340" y="280" width="12" height="12" fill="#84b4da"/>
<rect x="352" y="280" width="12" height="12" fill="#5a88c5"/>
<rect x="88" y="292" width="12" height="12" fill="#84b4da"/>
<rect x="100" y="292" width="12" height="12" fill="#5a88c5"/>
<rect x="112" y="292" width="12" height="12" fill="#5a88c5"/>
<rect x="124" y="292" width="12" height="12" fill="#5a88c5"/>
<rect x="136" y="292" width="12" height="12" fill="#5a88c5"/>
<rect x="148" y="292" width="12" height="12" fill="#4565b0"/>
<rect x="160" y="292" width="12" height="12" fill="#84b4da"/>
<rect x="172" y="292" width="12" height="12" fill="#84b4da"/>
<rect x="184" y="292" width="12" height="12" fill="#84b4da"/>
<rect x="196" y="292" width="12" height="12" fill="#4565b0"/>
<rect x="208" y="292" width="12" height="12" fill="#4565b0"/>
<rect x="220" y="292" width="12" height="12" fill="#4565b0"/>
<rect x="232" y="292" width="12" height="12" fill="#84b4da"/>
<rect x="244" y="292" width="12" height="12" fill="#b6d9ea"/>
<rect x="256" y="292" width="12" height="12" fill="#5a88c5"/>
<rect x="268" y="292" width="12" height="12" fill="#84b4da"/>
<rect x="280" y="292" width="12" height="12" fill="#5a88c5"/>
<rect x="292" y="292" width="12" height="12" fill="#4565b0"/>
<rect x="304" y="292" width="12" height="12" fill="#84b4da"/>
<rect x="316" y="292" width="12" height="12" fill="#5a88c5"/>
<rect x="328" y="292" width="12" height="12" fill="#84b4da"/>
<rect x="340" y="292" width="12" height="12" fill="#5a88c5"/>
<rect x="352" y="292" width="12" height="12" fill="#4565b0"/>
<rect x="364" y="292" width="12" height="12" fill="#4565b0"/>
<rect x="88" y="304" width="12" height="12" fill="#84b4da"/>
<rect x="100" y="304" width="12" height="12" fill="#84b4da"/>
<rect x="112" y="304" width="12" height="12" fill="#4565b0"/>
<rect x="124" y="304" width="12" height="12" fill="#5a88c5"/>
<rect x="136" y="304" width="12" height="12" fill="#5a88c5"/>
<rect x="148" y="304" width="12" height="12" fill="#5a88c5"/>
<rect x="160" y="304" width="12" height="12" fill="#84b4da"/>
<rect x="172" y="304" width="12" height="12" fill="#b6d9ea"/>
<rect x="184" y="304" width="12" height="12" fill="#b6d9ea"/>
<rect x="196" y="304" width="12" height="12" fill="#5a88c5"/>
<rect x="208" y="304" width="12" height="12" fill="#4565b0"/>
<rect x="220" y="304" width="12" height="12" fill="#5a88c5"/>
<rect x="232" y="304" width="12" height="12" fill="#b6d9ea"/>
<rect x="244" y="304" width="12" height="12" fill="#b6d9ea"/>
<rect x="256" y="304" width="12" height="12" fill="#5a88c5"/>
<rect x="268" y="304" width="12" height="12" fill="#84b4da"/>
<rect x="280" y="304" width="12" height="12" fill="#84b4da"/>
<rect x="292" y="304" width="12" height="12" fill="#84b4da"/>
<rect x="304" y="304" width="12" height="12" fill="#84b4da"/>
<rect x="316" y="304" width="12" height="12" fill="#84b4da"/>
<rect x="328" y="304" width="12" height="12" fill="#5a88c5"/>
<rect x="340" y="304" width="12" height="12" fill="#4565b0"/>
<rect x="352" y="304" width="12" height="12" fill="#4565b0"/>
<rect x="364" y="304" width="12" height="12" fill="#4565b0"/>
<rect x="88" y="316" width="12" height="12" fill="#84b4da"/>
<rect x="100" y="316" width="12" height="12" fill="#84b4da"/>
<rect x="112" y="316" width="12" height="12" fill="#5a88c5"/>
<rect x="124" y="316" width="12" height="12" fill="#3b49a0"/>
<rect x="136" y="316" width="12" height="12" fill="#4565b0"/>
<rect x="148" y="316" width="12" height="12" fill="#5a88c5"/>
<rect x="160" y="316" width="12" height="12" fill="#4565b0"/>
<rect x="172" y="316" width="12" height="12" fill="#84b4da"/>
<rect x="184" y="316" width="12" height="12" fill="#dcedf5"/>
<rect x="196" y="316" width="12" height="12" fill="#4565b0"/>
<rect x="208" y="316" width="12" height="12" fill="#5a88c5"/>
<rect x="220" y="316" width="12" height="12" fill="#5a88c5"/>
<rect x="232" y="316" width="12" height="12" fill="#84b4da"/>
<rect x="244" y="316" width="12" height="12" fill="#5a88c5"/>
<rect x="256" y="316" width="12" height="12" fill="#5a88c5"/>
<rect x="268" y="316" width="12" height="12" fill="#5a88c5"/>
<rect x="280" y="316" width="12" height="12" fill="#84b4da"/>
<rect x="292" y="316" width="12" height="12" fill="#5a88c5"/>
<rect x="304" y="316" width="12" height="12" fill="#5a88c5"/>
<rect x="316" y="316" width="12" height="12" fill="#4565b0"/>
<rect x="328" y="316" width="12" height="12" fill="#4565b0"/>
<rect x="340" y="316" width="12" height="12" fill="#3b49a0"/>
<rect x="352" y="316" width="12" height="12" fill="#4565b0"/>
<rect x="364" y="316" width="12" height="12" fill="#5a88c5"/>
<rect x="88" y="328" width="12" height="12" fill="#5a88c5"/>
<rect x="100" y="328" width="12" height="12" fill="#84b4da"/>
<rect x="112" y="328" width="12" height="12" fill="#84b4da"/>
<rect x="124" y="328" width="12" height="12" fill="#5a88c5"/>
<rect x="136" y="328" width="12" height="12" fill="#5a88c5"/>
<rect x="148" y="328" width="12" height="12" fill="#4565b0"/>
<rect x="160" y="328" width="12" height="12" fill="#5a88c5"/>
<rect x="172" y="328" width="12" height="12" fill="#5a88c5"/>
<rect x="184" y="328" width="12" height="12" fill="#4565b0"/>
<rect x="196" y="328" width="12" height="12" fill="#5a88c5"/>
<rect x="208" y="328" width="12" height="12" fill="#84b4da"/>
<rect x="220" y="328" width="12" height="12" fill="#5a88c5"/>
<rect x="232" y="328" width="12" height="12" fill="#84b4da"/>
<rect x="244" y="328" width="12" height="12" fill="#5a88c5"/>
<rect x="256" y="328" width="12" height="12" fill="#4565b0"/>
<rect x="268" y="328" width="12" height="12" fill="#5a88c5"/>
<rect x="280" y="328" width="12" height="12" fill="#4565b0"/>
<rect x="292" y="328" width="12" height="12" fill="#4565b0"/>
<rect x="304" y="328" width="12" height="12" fill="#3b49a0"/>
<rect x="316" y="328" width="12" height="12" fill="#3b49a0"/>
<rect x="328" y="328" width="12" height="12" fill="#4565b0"/>
<rect x="340" y="328" width="12" height="12" fill="#5a88c5"/>
<rect x="352" y="328" width="12" height="12" fill="#84b4da"/>
<rect x="364" y="328" width="12" height="12" fill="#5a88c5"/>
<rect x="88" y="340" width="12" height="12" fill="#5a88c5"/>
<rect x="100" y="340" width="12" height="12" fill="#5a88c5"/>
<rect x="112" y="340" width="12" height="12" fill="#5a88c5"/>
<rect x="124" y="340" width="12" height="12" fill="#84b4da"/>
<rect x="136" y="340" width="12" height="12" fill="#5a88c5"/>
<rect x="148" y="340" width="12" height="12" fill="#4565b0"/>
<rect x="160" y="340" width="12" height="12" fill="#5a88c5"/>
<rect x="172" y="340" width="12" height="12" fill="#5a88c5"/>
<rect x="184" y="340" width="12" height="12" fill="#5a88c5"/>
<rect x="196" y="340" width="12" height="12" fill="#5a88c5"/>
<rect x="208" y="340" width="12" height="12" fill="#5a88c5"/>
<rect x="220" y="340" width="12" height="12" fill="#5a88c5"/>
<rect x="232" y="340" width="12" height="12" fill="#4565b0"/>
<rect x="244" y="340" width="12" height="12" fill="#5a88c5"/>
<rect x="256" y="340" width="12" height="12" fill="#4565b0"/>
<rect x="268" y="340" width="12" height="12" fill="#4565b0"/>
<rect x="280" y="340" width="12" height="12" fill="#5a88c5"/>
<rect x="292" y="340" width="12" height="12" fill="#84b4da"/>
<rect x="304" y="340" width="12" height="12" fill="#5a88c5"/>
<rect x="316" y="340" width="12" height="12" fill="#84b4da"/>
<rect x="328" y="340" width="12" height="12" fill="#b6d9ea"/>
<rect x="340" y="340" width="12" height="12" fill="#b6d9ea"/>
<rect x="352" y="340" width="12" height="12" fill="#84b4da"/>
<rect x="364" y="340" width="12" height="12" fill="#84b4da"/>
<rect x="88" y="352" width="12" height="12" fill="#3b49a0"/>
<rect x="100" y="352" width="12" height="12" fill="#3b49a0"/>
<rect x="112" y="352" width="12" height="12" fill="#4565b0"/>
<rect x="124" y="352" width="12" height="12" fill="#4565b0"/>
<rect x="136" y="352" width="12" height="12" fill="#5a88c5"/>
<rect x="148" y="352" width="12" height="12" fill="#84b4da"/>
<rect x="160" y="352" width="12" height="12" fill="#5a88c5"/>
<rect x="172" y="352" width="12" height="12" fill="#5a88c5"/>
<rect x="184" y="352" width="12" height="12" fill="#5a88c5"/>
<rect x="196" y="352" width="12" height="12" fill="#5a88c5"/>
<rect x="208" y="352" width="12" height="12" fill="#3b49a0"/>
<rect x="220" y="352" width="12" height="12" fill="#84b4da"/>
<rect x="232" y="352" width="12" height="12" fill="#5a88c5"/>
<rect x="244" y="352" width="12" height="12" fill="#5a88c5"/>
<rect x="256" y="352" width="12" height="12" fill="#84b4da"/>
<rect x="268" y="352" width="12" height="12" fill="#5a88c5"/>
<rect x="280" y="352" width="12" height="12" fill="#5a88c5"/>
<rect x="292" y="352" width="12" height="12" fill="#84b4da"/>
<rect x="304" y="352" width="12" height="12" fill="#84b4da"/>
<rect x="316" y="352" width="12" height="12" fill="#b6d9ea"/>
<rect x="328" y="352" width="12" height="12" fill="#84b4da"/>
<rect x="340" y="352" width="12" height="12" fill="#84b4da"/>
<rect x="352" y="352" width="12" height="12" fill="#84b4da"/>
<rect x="364" y="352" width="12" height="12" fill="#5a88c5"/>
<rect x="88" y="364" width="12" height="12" fill="#3b49a0"/>
<rect x="100" y="364" width="12" height="12" fill="#3b49a0"/>
<rect x="112" y="364" width="12" height="12" fill="#4565b0"/>
<rect x="124" y="364" width="12" height="12" fill="#4565b0"/>
<rect x="136" y="364" width="12" height="12" fill="#84b4da"/>
<rect x="148" y="364" width="12" height="12" fill="#b6d9ea"/>
<rect x="160" y="364" width="12" height="12" fill="#b6d9ea"/>
<rect x="172" y="364" width="12" height="12" fill="#5a88c5"/>
<rect x="184" y="364" width="12" height="12" fill="#5a88c5"/>
<rect x="196" y="364" width="12" height="12" fill="#5a88c5"/>
<rect x="208" y="364" width="12" height="12" fill="#84b4da"/>
<rect x="220" y="364" width="12" height="12" fill="#5a88c5"/>
<rect x="232" y="364" width="12" height="12" fill="#4565b0"/>
<rect x="244" y="364" width="12" height="12" fill="#84b4da"/>
<rect x="256" y="364" width="12" height="12" fill="#84b4da"/>
<rect x="268" y="364" width="12" height="12" fill="#5a88c5"/>
<rect x="280" y="364" width="12" height="12" fill="#4565b0"/>
<rect x="292" y="364" width="12" height="12" fill="#5a88c5"/>
<rect x="304" y="364" width="12" height="12" fill="#5a88c5"/>
<rect x="316" y="364" width="12" height="12" fill="#84b4da"/>
<rect x="328" y="364" width="12" height="12" fill="#84b4da"/>
<rect x="340" y="364" width="12" height="12" fill="#5a88c5"/>
<rect x="352" y="364" width="12" height="12" fill="#84b4da"/>
<rect x="364" y="364" width="12" height="12" fill="#84b4da"/>
<rect x="88" y="376" width="12" height="12" fill="#84b4da"/>
<rect x="100" y="376" width="12" height="12" fill="#84b4da"/>
<rect x="112" y="376" width="12" height="12" fill="#84b4da"/>
<rect x="124" y="376" width="12" height="12" fill="#5a88c5"/>
<rect x="136" y="376" width="12" height="12" fill="#5a88c5"/>
<rect x="148" y="376" width="12" height="12" fill="#84b4da"/>
<rect x="160" y="376" width="12" height="12" fill="#84b4da"/>
<rect x="172" y="376" width="12" height="12" fill="#5a88c5"/>
<rect x="184" y="376" width="12" height="12" fill="#5a88c5"/>
<rect x="196" y="376" width="12" height="12" fill="#5a88c5"/>
<rect x="208" y="376" width="12" height="12" fill="#5a88c5"/>
<rect x="220" y="376" width="12" height="12" fill="#4565b0"/>
<rect x="232" y="376" width="12" height="12" fill="#5a88c5"/>
<rect x="244" y="376" width="12" height="12" fill="#84b4da"/>
<rect x="256" y="376" width="12" height="12" fill="#4565b0"/>
<rect x="268" y="376" width="12" height="12" fill="#4565b0"/>
<rect x="280" y="376" width="12" height="12" fill="#4565b0"/>
<rect x="292" y="376" width="12" height="12" fill="#4565b0"/>
<rect x="304" y="376" width="12" height="12" fill="#5a88c5"/>
<rect x="316" y="376" width="12" height="12" fill="#4565b0"/>
<rect x="328" y="376" width="12" height="12" fill="#5a88c5"/>
<rect x="340" y="376" width="12" height="12" fill="#5a88c5"/>
<rect x="352" y="376" width="12" height="12" fill="#84b4da"/>
<rect x="364" y="376" width="12" height="12" fill="#5a88c5"/>
<rect x="88" y="388" width="12" height="12" fill="#b6d9ea"/>
<rect x="100" y="388" width="12" height="12" fill="#dcedf5"/>
<rect x="112" y="388" width="12" height="12" fill="#b6d9ea"/>
<rect x="124" y="388" width="12" height="12" fill="#84b4da"/>
<rect x="136" y="388" width="12" height="12" fill="#5a88c5"/>
<rect x="148" y="388" width="12" height="12" fill="#4565b0"/>
<rect x="160" y="388" width="12" height="12" fill="#5a88c5"/>
<rect x="172" y="388" width="12" height="12" fill="#5a88c5"/>
<rect x="184" y="388" width="12" height="12" fill="#84b4da"/>
<rect x="196" y="388" width="12" height="12" fill="#5a88c5"/>
<rect x="208" y="388" width="12" height="12" fill="#5a88c5"/>
<rect x="220" y="388" width="12" height="12" fill="#5a88c5"/>
<rect x="232" y="388" width="12" height="12" fill="#5a88c5"/>
<rect x="244" y="388" width="12" height="12" fill="#4565b0"/>
<rect x="256" y="388" width="12" height="12" fill="#5a88c5"/>
<rect x="268" y="388" width="12" height="12" fill="#5a88c5"/>
<rect x="280" y="388" width="12" height="12" fill="#5a88c5"/>
<rect x="292" y="388" width="12" height="12" fill="#4565b0"/>
<rect x="304" y="388" width="12" height="12" fill="#5a88c5"/>
<rect x="316" y="388" width="12" height="12" fill="#5a88c5"/>
<rect x="328" y="388" width="12" height="12" fill="#4565b0"/>
<rect x="340" y="388" width="12" height="12" fill="#5a88c5"/>
<rect x="352" y="388" width="12" height="12" fill="#4565b0"/>
<rect x="364" y="388" width="12" height="12" fill="#5a88c5"/>
<rect x="88" y="400" width="12" height="12" fill="#84b4da"/>
<rect x="100" y="400" width="12" height="12" fill="#4565b0"/>
<rect x="112" y="400" width="12" height="12" fill="#5a88c5"/>
<rect x="124" y="400" width="12" height="12" fill="#5a88c5"/>
<rect x="136" y="400" width="12" height="12" fill="#4565b0"/>
<rect x="148" y="400" width="12" height="12" fill="#4565b0"/>
<rect x="160" y="400" width="12" height="12" fill="#5a88c5"/>
<rect x="172" y="400" width="12" height="12" fill="#5a88c5"/>
<rect x="184" y="400" width="12" height="12" fill="#5a88c5"/>
<rect x="196" y="400" width="12" height="12" fill="#84b4da"/>
<rect x="208" y="400" width="12" height="12" fill="#4565b0"/>
<rect x="220" y="400" width="12" height="12" fill="#4565b0"/>
<rect x="232" y="400" width="12" height="12" fill="#b6d9ea"/>
<rect x="244" y="400" width="12" height="12" fill="#5a88c5"/>
<rect x="256" y="400" width="12" height="12" fill="#4565b0"/>
<rect x="268" y="400" width="12" height="12" fill="#5a88c5"/>
<rect x="280" y="400" width="12" height="12" fill="#b6d9ea"/>
<rect x="292" y="400" width="12" height="12" fill="#84b4da"/>
<rect x="304" y="400" width="12" height="12" fill="#4565b0"/>
<rect x="316" y="400" width="12" height="12" fill="#5a88c5"/>
<rect x="328" y="400" width="12" height="12" fill="#4565b0"/>
<rect x="340" y="400" width="12" height="12" fill="#5a88c5"/>
<rect x="352" y="400" width="12" height="12" fill="#4565b0"/>
<rect x="364" y="400" width="12" height="12" fill="#4565b0"/>
<rect x="88" y="412" width="12" height="12" fill="#4565b0"/>
<rect x="100" y="412" width="12" height="12" fill="#4565b0"/>
<rect x="112" y="412" width="12" height="12" fill="#84b4da"/>
<rect x="124" y="412" width="12" height="12" fill="#5a88c5"/>
<rect x="136" y="412" width="12" height="12" fill="#84b4da"/>
<rect x="148" y="412" width="12" height="12" fill="#5a88c5"/>
<rect x="160" y="412" width="12" height="12" fill="#4565b0"/>
<rect x="172" y="412" width="12" height="12" fill="#84b4da"/>
<rect x="184" y="412" width="12" height="12" fill="#84b4da"/>
<rect x="196" y="412" width="12" height="12" fill="#5a88c5"/>
<rect x="208" y="412" width="12" height="12" fill="#4565b0"/>
<rect x="220" y="412" width="12" height="12" fill="#84b4da"/>
<rect x="232" y="412" width="12" height="12" fill="#84b4da"/>
<rect x="244" y="412" width="12" height="12" fill="#5a88c5"/>
<rect x="256" y="412" width="12" height="12" fill="#4565b0"/>
<rect x="268" y="412" width="12" height="12" fill="#5a88c5"/>
<rect x="280" y="412" width="12" height="12" fill="#84b4da"/>
<rect x="292" y="412" width="12" height="12" fill="#5a88c5"/>
<rect x="304" y="412" width="12" height="12" fill="#4565b0"/>
<rect x="316" y="412" width="12" height="12" fill="#5a88c5"/>
<rect x="328" y="412" width="12" height="12" fill="#4565b0"/>
<rect x="340" y="412" width="12" height="12" fill="#4565b0"/>
<rect x="352" y="412" width="12" height="12" fill="#4565b0"/>
<rect x="364" y="412" width="12" height="12" fill="#4565b0"/>
<rect x="88" y="424" width="12" height="12" fill="#5a88c5"/>
<rect x="100" y="424" width="12" height="12" fill="#84b4da"/>
<rect x="112" y="424" width="12" height="12" fill="#5a88c5"/>
<rect x="124" y="424" width="12" height="12" fill="#5a88c5"/>
<rect x="136" y="424" width="12" height="12" fill="#84b4da"/>
<rect x="148" y="424" width="12" height="12" fill="#5a88c5"/>
<rect x="160" y="424" width="12" height="12" fill="#5a88c5"/>
<rect x="172" y="424" width="12" height="12" fill="#84b4da"/>
<rect x="184" y="424" width="12" height="12" fill="#5a88c5"/>
<rect x="196" y="424" width="12" height="12" fill="#4565b0"/>
<rect x="208" y="424" width="12" height="12" fill="#4565b0"/>
<rect x="220" y="424" width="12" height="12" fill="#5a88c5"/>
<rect x="232" y="424" width="12" height="12" fill="#5a88c5"/>
<rect x="244" y="424" width="12" height="12" fill="#5a88c5"/>
<rect x="256" y="424" width="12" height="12" fill="#4565b0"/>
<rect x="268" y="424" width="12" height="12" fill="#5a88c5"/>
<rect x="280" y="424" width="12" height="12" fill="#5a88c5"/>
<rect x="292" y="424" width="12" height="12" fill="#5a88c5"/>
<rect x="304" y="424" width="12" height="12" fill="#4565b0"/>
<rect x="316" y="424" width="12" height="12" fill="#4565b0"/>
<rect x="328" y="424" width="12" height="12" fill="#4565b0"/>
<rect x="340" y="424" width="12" height="12" fill="#4565b0"/>
<rect x="352" y="424" width="12" height="12" fill="#5a88c5"/>
<rect x="364" y="424" width="12" height="12" fill="#4565b0"/>
<rect x="88" y="436" width="12" height="12" fill="#5a88c5"/>
<rect x="100" y="436" width="12" height="12" fill="#5a88c5"/>
<rect x="112" y="436" width="12" height="12" fill="#84b4da"/>
<rect x="124" y="436" width="12" height="12" fill="#84b4da"/>
<rect x="136" y="436" width="12" height="12" fill="#b6d9ea"/>
<rect x="148" y="436" width="12" height="12" fill="#84b4da"/>
<rect x="160" y="436" width="12" height="12" fill="#5a88c5"/>
<rect x="172" y="436" width="12" height="12" fill="#4565b0"/>
<rect x="184" y="436" width="12" height="12" fill="#5a88c5"/>
<rect x="196" y="436" width="12" height="12" fill="#84b4da"/>
<rect x="208" y="436" width="12" height="12" fill="#84b4da"/>
<rect x="220" y="436" width="12" height="12" fill="#3b49a0"/>
<rect x="232" y="436" width="12" height="12" fill="#5a88c5"/>
<rect x="244" y="436" width="12" height="12" fill="#b6d9ea"/>
<rect x="256" y="436" width="12" height="12" fill="#5a88c5"/>
<rect x="268" y="436" width="12" height="12" fill="#4565b0"/>
<rect x="280" y="436" width="12" height="12" fill="#4565b0"/>
<rect x="292" y="436" width="12" height="12" fill="#5a88c5"/>
<rect x="304" y="436" width="12" height="12" fill="#4565b0"/>
<rect x="316" y="436" width="12" height="12" fill="#5a88c5"/>
<rect x="328" y="436" width="12" height="12" fill="#4565b0"/>
<rect x="340" y="436" width="12" height="12" fill="#3b49a0"/>
<rect x="352" y="436" width="12" height="12" fill="#3b49a0"/>
<rect x="364" y="436" width="12" height="12" fill="#4565b0"/>
<rect x="88" y="448" width="12" height="12" fill="#5a88c5"/>
<rect x="100" y="448" width="12" height="12" fill="#84b4da"/>
<rect x="112" y="448" width="12" height="12" fill="#b6d9ea"/>
<rect x="124" y="448" width="12" height="12" fill="#84b4da"/>
<rect x="136" y="448" width="12" height="12" fill="#84b4da"/>
<rect x="148" y="448" width="12" height="12" fill="#5a88c5"/>
<rect x="160" y="448" width="12" height="12" fill="#4565b0"/>
<rect x="172" y="448" width="12" height="12" fill="#5a88c5"/>
<rect x="184" y="448" width="12" height="12" fill="#84b4da"/>
<rect x="196" y="448" width="12" height="12" fill="#4565b0"/>
<rect x="208" y="448" width="12" height="12" fill="#5a88c5"/>
<rect x="220" y="448" width="12" height="12" fill="#5a88c5"/>
<rect x="232" y="448" width="12" height="12" fill="#4565b0"/>
<rect x="244" y="448" width="12" height="12" fill="#4565b0"/>
<rect x="256" y="448" width="12" height="12" fill="#5a88c5"/>
<rect x="268" y="448" width="12" height="12" fill="#84b4da"/>
<rect x="280" y="448" width="12" height="12" fill="#84b4da"/>
<rect x="292" y="448" width="12" height="12" fill="#84b4da"/>
<rect x="304" y="448" width="12" height="12" fill="#5a88c5"/>
<rect x="316" y="448" width="12" height="12" fill="#4565b0"/>
<rect x="328" y="448" width="12" height="12" fill="#3b49a0"/>
<rect x="340" y="448" width="12" height="12" fill="#3b49a0"/>
<rect x="352" y="448" width="12" height="12" fill="#4565b0"/>
<rect x="364" y="448" width="12" height="12" fill="#3b49a0"/>
<rect x="88" y="460" width="12" height="12" fill="#84b4da"/>
<rect x="100" y="460" width="12" height="12" fill="#84b4da"/>
<rect x="112" y="460" width="12" height="12" fill="#84b4da"/>
<rect x="124" y="460" width="12" height="12" fill="#4565b0"/>
<rect x="136" y="460" width="12" height="12" fill="#4565b0"/>
<rect x="148" y="460" width="12" height="12" fill="#5a88c5"/>
<rect x="160" y="460" width="12" height="12" fill="#4565b0"/>
<rect x="172" y="460" width="12" height="12" fill="#5a88c5"/>
<rect x="184" y="460" width="12" height="12" fill="#5a88c5"/>
<rect x="196" y="460" width="12" height="12" fill="#3b49a0"/>
<rect x="208" y="460" width="12" height="12" fill="#4565b0"/>
<rect x="220" y="460" width="12" height="12" fill="#84b4da"/>
<rect x="232" y="460" width="12" height="12" fill="#5a88c5"/>
<rect x="244" y="460" width="12" height="12" fill="#3b49a0"/>
<rect x="256" y="460" width="12" height="12" fill="#84b4da"/>
<rect x="268" y="460" width="12" height="12" fill="#84b4da"/>
<rect x="280" y="460" width="12" height="12" fill="#84b4da"/>
<rect x="292" y="460" width="12" height="12" fill="#b6d9ea"/>
<rect x="304" y="460" width="12" height="12" fill="#84b4da"/>
<rect x="316" y="460" width="12" height="12" fill="#5a88c5"/>
<rect x="328" y="460" width="12" height="12" fill="#4565b0"/>
<rect x="340" y="460" width="12" height="12" fill="#3b49a0"/>
<rect x="352" y="460" width="12" height="12" fill="#3b49a0"/>
<rect x="364" y="460" width="12" height="12" fill="#4565b0"/>
<rect x="100" y="472" width="12" height="12" fill="#84b4da"/>
<rect x="112" y="472" width="12" height="12" fill="#5a88c5"/>
<rect x="124" y="472" width="12" height="12" fill="#5a88c5"/>
<rect x="136" y="472" width="12" height="12" fill="#4565b0"/>
<rect x="148" y="472" width="12" height="12" fill="#4565b0"/>
<rect x="160" y="472" width="12" height="12" fill="#4565b0"/>
<rect x="172" y="472" width="12" height="12" fill="#5a88c5"/>
<rect x="184" y="472" width="12" height="12" fill="#5a88c5"/>
<rect x="196" y="472" width="12" height="12" fill="#84b4da"/>
<rect x="208" y="472" width="12" height="12" fill="#5a88c5"/>
<rect x="220" y="472" width="12" height="12" fill="#84b4da"/>
<rect x="232" y="472" width="12" height="12" fill="#5a88c5"/>
<rect x="244" y="472" width="12" height="12" fill="#4565b0"/>
<rect x="256" y="472" width="12" height="12" fill="#5a88c5"/>
<rect x="268" y="472" width="12" height="12" fill="#84b4da"/>
<rect x="280" y="472" width="12" height="12" fill="#5a88c5"/>
<rect x="292" y="472" width="12" height="12" fill="#b6d9ea"/>
<rect x="304" y="472" width="12" height="12" fill="#dcedf5"/>
<rect x="316" y="472" width="12" height="12" fill="#84b4da"/>
<rect x="328" y="472" width="12" height="12" fill="#5a88c5"/>
<rect x="340" y="472" width="12" height="12" fill="#4565b0"/>
<rect x="352" y="472" width="12" height="12" fill="#3b49a0"/>
<rect x="112" y="484" width="12" height="12" fill="#5a88c5"/>
<rect x="124" y="484" width="12" height="12" fill="#4565b0"/>
<rect x="136" y="484" width="12" height="12" fill="#4565b0"/>
<rect x="148" y="484" width="12" height="12" fill="#4565b0"/>
<rect x="160" y="484" width="12" height="12" fill="#4565b0"/>
<rect x="172" y="484" width="12" height="12" fill="#5a88c5"/>
<rect x="184" y="484" width="12" height="12" fill="#84b4da"/>
<rect x="196" y="484" width="12" height="12" fill="#5a88c5"/>
<rect x="208" y="484" width="12" height="12" fill="#4565b0"/>
<rect x="220" y="484" width="12" height="12" fill="#84b4da"/>
<rect x="232" y="484" width="12" height="12" fill="#84b4da"/>
<rect x="244" y="484" width="12" height="12" fill="#3b49a0"/>
<rect x="256" y="484" width="12" height="12" fill="#5a88c5"/>
<rect x="268" y="484" width="12" height="12" fill="#5a88c5"/>
<rect x="280" y="484" width="12" height="12" fill="#4565b0"/>
<rect x="292" y="484" width="12" height="12" fill="#84b4da"/>
<rect x="304" y="484" width="12" height="12" fill="#b6d9ea"/>
<rect x="316" y="484" width="12" height="12" fill="#b6d9ea"/>
<rect x="328" y="484" width="12" height="12" fill="#84b4da"/>
<rect x="340" y="484" width="12" height="12" fill="#5a88c5"/>
<rect x="124" y="496" width="12" height="12" fill="#4565b0"/>
<rect x="136" y="496" width="12" height="12" fill="#4565b0"/>
<rect x="148" y="496" width="12" height="12" fill="#4565b0"/>
<rect x="160" y="496" width="12" height="12" fill="#4565b0"/>
<rect x="172" y="496" width="12" height="12" fill="#5a88c5"/>
<rect x="184" y="496" width="12" height="12" fill="#b6d9ea"/>
<rect x="196" y="496" width="12" height="12" fill="#5a88c5"/>
<rect x="208" y="496" width="12" height="12" fill="#4565b0"/>
<rect x="220" y="496" width="12" height="12" fill="#84b4da"/>
<rect x="232" y="496" width="12" height="12" fill="#84b4da"/>
<rect x="244" y="496" width="12" height="12" fill="#5a88c5"/>
<rect x="256" y="496" width="12" height="12" fill="#4565b0"/>
<rect x="268" y="496" width="12" height="12" fill="#5a88c5"/>
<rect x="280" y="496" width="12" height="12" fill="#4565b0"/>
<rect x="292" y="496" width="12" height="12" fill="#4565b0"/>
<rect x="304" y="496" width="12" height="12" fill="#4565b0"/>
<rect x="316" y="496" width="12" height="12" fill="#84b4da"/>
<rect x="328" y="496" width="12" height="12" fill="#b6d9ea"/>
<rect x="136" y="508" width="12" height="12" fill="#4565b0"/>
<rect x="148" y="508" width="12" height="12" fill="#4565b0"/>
<rect x="160" y="508" width="12" height="12" fill="#4565b0"/>
<rect x="172" y="508" width="12" height="12" fill="#84b4da"/>
<rect x="184" y="508" width="12" height="12" fill="#84b4da"/>
<rect x="196" y="508" width="12" height="12" fill="#5a88c5"/>
<rect x="208" y="508" width="12" height="12" fill="#4565b0"/>
<rect x="220" y="508" width="12" height="12" fill="#84b4da"/>
<rect x="232" y="508" width="12" height="12" fill="#84b4da"/>
<rect x="244" y="508" width="12" height="12" fill="#5a88c5"/>
<rect x="256" y="508" width="12" height="12" fill="#5a88c5"/>
<rect x="268" y="508" width="12" height="12" fill="#4565b0"/>
<rect x="280" y="508" width="12" height="12" fill="#5a88c5"/>
<rect x="292" y="508" width="12" height="12" fill="#4565b0"/>
<rect x="304" y="508" width="12" height="12" fill="#4565b0"/>
<rect x="316" y="508" width="12" height="12" fill="#4565b0"/>
<rect x="148" y="520" width="12" height="12" fill="#4565b0"/>
<rect x="160" y="520" width="12" height="12" fill="#5a88c5"/>
<rect x="172" y="520" width="12" height="12" fill="#5a88c5"/>
<rect x="184" y="520" width="12" height="12" fill="#84b4da"/>
<rect x="196" y="520" width="12" height="12" fill="#5a88c5"/>
<rect x="208" y="520" width="12" height="12" fill="#5a88c5"/>
<rect x="220" y="520" width="12" height="12" fill="#5a88c5"/>
<rect x="232" y="520" width="12" height="12" fill="#84b4da"/>
<rect x="244" y="520" width="12" height="12" fill="#5a88c5"/>
<rect x="256" y="520" width="12" height="12" fill="#5a88c5"/>
<rect x="268" y="520" width="12" height="12" fill="#5a88c5"/>
<rect x="280" y="520" width="12" height="12" fill="#5a88c5"/>
<rect x="292" y="520" width="12" height="12" fill="#5a88c5"/>
<path d="M230.40 337.27A47.60 46.33 0 0 1 238.67 337.97L246.93 292.34A95.20 92.67 0 0 0 230.40 290.93Z" fill="#94c0df" opacity="0.8"/>
<path d="M238.67 337.97A47.60 46.33 0 0 1 246.68 340.06L262.96 296.52A95.20 92.67 0 0 0 246.93 292.34Z" fill="#5885c3" opacity="0.8"/>
<path d="M246.68 340.06A47.60 46.33 0 0 1 254.20 343.47L278.00 303.35A95.20 92.67 0 0 0 262.96 296.52Z" fill="#94c0df" opacity="0.8"/>
<path d="M254.20 343.47A47.60 46.33 0 0 1 261.00 348.11L291.59 312.61A95.20 92.67 0 0 0 278.00 303.35Z" fill="#94c0df" opacity="0.8"/>
<path d="M261.00 348.11A47.60 46.33 0 0 1 266.86 353.82L303.33 324.04A95.20 92.67 0 0 0 291.59 312.61Z" fill="#74a3d2" opacity="0.8"/>
<path d="M266.86 353.82A47.60 46.33 0 0 1 271.62 360.43L312.85 337.27A95.20 92.67 0 0 0 303.33 324.04Z" fill="#4a6db5" opacity="0.8"/>
<path d="M271.62 360.43A47.60 46.33 0 0 1 275.13 367.75L319.86 351.91A95.20 92.67 0 0 0 312.85 337.27Z" fill="#4a6db5" opacity="0.8"/>
<path d="M275.13 367.75A47.60 46.33 0 0 1 277.28 375.55L324.15 367.51A95.20 92.67 0 0 0 319.86 351.91Z" fill="#74a3d2" opacity="0.8"/>
<path d="M277.28 375.55A47.60 46.33 0 0 1 278.00 383.60L325.60 383.60A95.20 92.67 0 0 0 324.15 367.51Z" fill="#4a6db5" opacity="0.8"/>
<path d="M278.00 383.60A47.60 46.33 0 0 1 277.28 391.65L324.15 399.69A95.20 92.67 0 0 0 325.60 383.60Z" fill="#5885c3" opacity="0.8"/>
<path d="M277.28 391.65A47.60 46.33 0 0 1 275.13 399.45L319.86 415.29A95.20 92.67 0 0 0 324.15 399.69Z" fill="#94c0df" opacity="0.8"/>
<path d="M275.13 399.45A47.60 46.33 0 0 1 271.62 406.77L312.85 429.93A95.20 92.67 0 0 0 319.86 415.29Z" fill="#4a6db5" opacity="0.8"/>
<path d="M271.62 406.77A47.60 46.33 0 0 1 266.86 413.38L303.33 443.16A95.20 92.67 0 0 0 312.85 429.93Z" fill="#5885c3" opacity="0.8"/>
<path d="M266.86 413.38A47.60 46.33 0 0 1 261.00 419.09L291.59 454.59A95.20 92.67 0 0 0 303.33 443.16Z" fill="#74a3d2" opacity="0.8"/>
<path d="M261.00 419.09A47.60 46.33 0 0 1 254.20 423.73L278.00 463.85A95.20 92.67 0 0 0 291.59 454.59Z" fill="#94c0df" opacity="0.8"/>
<path d="M254.20 423.73A47.60 46.33 0 0 1 246.68 427.14L262.96 470.68A95.20 92.67 0 0 0 278.00 463.85Z" fill="#74a3d2" opacity="0.8"/>
<path d="M246.68 427.14A47.60 46.33 0 0 1 238.67 429.23L246.93 474.86A95.20 92.67 0 0 0 262.96 470.68Z" fill="#5885c3" opacity="0.8"/>
<path d="M238.67 429.23A47.60 46.33 0 0 1 230.40 429.93L230.40 476.27A95.20 92.67 0 0 0 246.93 474.86Z" fill="#5885c3" opacity="0.8"/>
<path d="M230.40 429.93A47.60 46.33 0 0 1 222.13 429.23L213.87 474.86A95.20 92.67 0 0 0 230.40 476.27Z" fill="#74a3d2" opacity="0.8"/>
<path d="M222.13 429.23A47.60 46.33 0 0 1 214.12 427.14L197.84 470.68A95.20 92.67 0 0 0 213.87 474.86Z" fill="#4058a8" opacity="0.8"/>
<path d="M214.12 427.14A47.60 46.33 0 0 1 206.60 423.73L182.80 463.85A95.20 92.67 0 0 0 197.84 470.68Z" fill="#94c0df" opacity="0.8"/>
<path d="M206.60 423.73A47.60 46.33 0 0 1 199.80 419.09L169.21 454.59A95.20 92.67 0 0 0 182.80 463.85Z" fill="#4a6db5" opacity="0.8"/>
<path d="M199.80 419.09A47.60 46.33 0 0 1 193.94 413.38L157.47 443.16A95.20 92.67 0 0 0 169.21 454.59Z" fill="#4a6db5" opacity="0.8"/>
<path d="M193.94 413.38A47.60 46.33 0 0 1 189.18 406.77L147.95 429.93A95.20 92.67 0 0 0 157.47 443.16Z" fill="#b7d9ea" opacity="0.8"/>
<path d="M189.18 406.77A47.60 46.33 0 0 1 185.67 399.45L140.94 415.29A95.20 92.67 0 0 0 147.95 429.93Z" fill="#94c0df" opacity="0.8"/>
<path d="M185.67 399.45A47.60 46.33 0 0 1 183.52 391.65L136.65 399.69A95.20 92.67 0 0 0 140.94 415.29Z" fill="#4a6db5" opacity="0.8"/>
<path d="M183.52 391.65A47.60 46.33 0 0 1 182.80 383.60L135.20 383.60A95.20 92.67 0 0 0 136.65 399.69Z" fill="#4058a8" opacity="0.8"/>
<path d="M182.80 383.60A47.60 46.33 0 0 1 183.52 375.55L136.65 367.51A95.20 92.67 0 0 0 135.20 383.60Z" fill="#b7d9ea" opacity="0.8"/>
<path d="M183.52 375.55A47.60 46.33 0 0 1 185.67 367.75L140.94 351.91A95.20 92.67 0 0 0 136.65 367.51Z" fill="#4a6db5" opacity="0.8"/>
<path d="M185.67 367.75A47.60 46.33 0 0 1 189.18 360.43L147.95 337.27A95.20 92.67 0 0 0 140.94 351.91Z" fill="#5885c3" opacity="0.8"/>
<path d="M189.18 360.43A47.60 46.33 0 0 1 193.94 353.82L157.47 324.04A95.20 92.67 0 0 0 147.95 337.27Z" fill="#94c0df" opacity="0.8"/>
<path d="M193.94 353.82A47.60 46.33 0 0 1 199.80 348.11L169.21 312.61A95.20 92.67 0 0 0 157.47 324.04Z" fill="#d1e7f2" opacity="0.8"/>
<path d="M199.80 348.11A47.60 46.33 0 0 1 206.60 343.47L182.80 303.35A95.20 92.67 0 0 0 169.21 312.61Z" fill="#94c0df" opacity="0.8"/>
<path d="M206.60 343.47A47.60 46.33 0 0 1 214.12 340.06L197.84 296.52A95.20 92.67 0 0 0 182.80 303.35Z" fill="#74a3d2" opacity="0.8"/>
<path d="M214.12 340.06A47.60 46.33 0 0 1 222.13 337.97L213.87 292.34A95.20 92.67 0 0 0 197.84 296.52Z" fill="#4a6db5" opacity="0.8"/>
<path d="M222.13 337.97A47.60 46.33 0 0 1 230.40 337.27L230.40 290.93A95.20 92.67 0 0 0 213.87 292.34Z" fill="#5885c3" opacity="0.8"/>
<path d="M230.40 383.46A0.14 0.14 0 0 1 230.47 383.48L242.30 363.54A23.80 23.17 0 0 0 230.40 360.43Z" fill="#5986c4" opacity="0.7"/>
<path d="M230.40 360.43A23.80 23.17 0 0 1 242.30 363.54L254.20 343.47A47.60 46.33 0 0 0 230.40 337.27Z" fill="#73a2d1" opacity="0.7"/>
<path d="M230.47 383.48A0.14 0.14 0 0 1 230.52 383.53L251.01 372.02A23.80 23.17 0 0 0 242.30 363.54Z" fill="#73a2d1" opacity="0.7"/>
<path d="M242.30 363.54A23.80 23.17 0 0 1 251.01 372.02L271.62 360.43A47.60 46.33 0 0 0 254.20 343.47Z" fill="#90bdde" opacity="0.7"/>
<path d="M230.52 383.53A0.14 0.14 0 0 1 230.54 383.60L254.20 383.60A23.80 23.17 0 0 0 251.01 372.02Z" fill="#5986c4" opacity="0.7"/>
<path d="M251.01 372.02A23.80 23.17 0 0 1 254.20 383.60L278.00 383.60A47.60 46.33 0 0 0 271.62 360.43Z" fill="#3b49a0" opacity="0.7"/>
<path d="M230.54 383.60A0.14 0.14 0 0 1 230.52 383.67L251.01 395.18A23.80 23.17 0 0 0 254.20 383.60Z" fill="#415baa" opacity="0.7"/>
<path d="M254.20 383.60A23.80 23.17 0 0 1 251.01 395.18L271.62 406.77A47.60 46.33 0 0 0 278.00 383.60Z" fill="#415baa" opacity="0.7"/>
<path d="M230.52 383.67A0.14 0.14 0 0 1 230.47 383.72L242.30 403.66A23.80 23.17 0 0 0 251.01 395.18Z" fill="#5986c4" opacity="0.7"/>
<path d="M251.01 395.18A23.80 23.17 0 0 1 242.30 403.66L254.20 423.73A47.60 46.33 0 0 0 271.62 406.77Z" fill="#5986c4" opacity="0.7"/>
<path d="M230.47 383.72A0.14 0.14 0 0 1 230.40 383.74L230.40 406.77A23.80 23.17 0 0 0 242.30 403.66Z" fill="#90bdde" opacity="0.7"/>
<path d="M242.30 403.66A23.80 23.17 0 0 1 230.40 406.77L230.40 429.93A47.60 46.33 0 0 0 254.20 423.73Z" fill="#cbe4f0" opacity="0.7"/>
<path d="M230.40 383.74A0.14 0.14 0 0 1 230.33 383.72L218.50 403.66A23.80 23.17 0 0 0 230.40 406.77Z" fill="#90bdde" opacity="0.7"/>
<path d="M230.40 406.77A23.80 23.17 0 0 1 218.50 403.66L206.60 423.73A47.60 46.33 0 0 0 230.40 429.93Z" fill="#90bdde" opacity="0.7"/>
<path d="M230.33 383.72A0.14 0.14 0 0 1 230.28 383.67L209.79 395.18A23.80 23.17 0 0 0 218.50 403.66Z" fill="#4b6fb6" opacity="0.7"/>
<path d="M218.50 403.66A23.80 23.17 0 0 1 209.79 395.18L189.18 406.77A47.60 46.33 0 0 0 206.60 423.73Z" fill="#415baa" opacity="0.7"/>
<path d="M230.28 383.67A0.14 0.14 0 0 1 230.26 383.60L206.60 383.60A23.80 23.17 0 0 0 209.79 395.18Z" fill="#5986c4" opacity="0.7"/>
<path d="M209.79 395.18A23.80 23.17 0 0 1 206.60 383.60L182.80 383.60A47.60 46.33 0 0 0 189.18 406.77Z" fill="#5986c4" opacity="0.7"/>
<path d="M230.26 383.60A0.14 0.14 0 0 1 230.28 383.53L209.79 372.02A23.80 23.17 0 0 0 206.60 383.60Z" fill="#415baa" opacity="0.7"/>
<path d="M206.60 383.60A23.80 23.17 0 0 1 209.79 372.02L189.18 360.43A47.60 46.33 0 0 0 182.80 383.60Z" fill="#5986c4" opacity="0.7"/>
<path d="M230.28 383.53A0.14 0.14 0 0 1 230.33 383.48L218.50 363.54A23.80 23.17 0 0 0 209.79 372.02Z" fill="#5986c4" opacity="0.7"/>
<path d="M209.79 372.02A23.80 23.17 0 0 1 218.50 363.54L206.60 343.47A47.60 46.33 0 0 0 189.18 360.43Z" fill="#415baa" opacity="0.7"/>
<path d="M230.33 383.48A0.14 0.14 0 0 1 230.40 383.46L230.40 360.43A23.80 23.17 0 0 0 218.50 363.54Z" fill="#3b49a0" opacity="0.7"/>
<path d="M218.50 363.54A23.80 23.17 0 0 1 230.40 360.43L230.40 337.27A47.60 46.33 0 0 0 206.60 343.47Z" fill="#5986c4" opacity="0.7"/>
<path d="M240 298L253 300L251 313L237 310Z" fill="#d4eaf3"/>
<path d="M173 300L190 302L188 322L170 319Z" fill="#cfe7f2"/>
<path d="M235 404L245 406L243 417L232 414Z" fill="#c8e4f0"/>
<path d="M240 436L247 438L245 444L237 441Z" fill="#d8ecf5"/>
<path d="M147 365L165 367L163 376L144 373Z" fill="#d0e8f2"/>
<path d="M284 396L296 398L294 411L281 408Z" fill="#e6efe6"/>
</g>
<path d="M230.40 290.93A95.20 92.67 0 0 1 238.70 291.29L243.47 238.21A149.94 145.95 0 0 0 230.40 237.65Z" fill="#72a1d1" stroke="#72a1d1" stroke-width="0.6"/>
<path d="M238.70 291.29A95.20 92.67 0 0 1 246.93 292.34L256.44 239.87A149.94 145.95 0 0 0 243.47 238.21Z" fill="#5986c4" stroke="#5986c4" stroke-width="0.6"/>
<path d="M246.93 292.34A95.20 92.67 0 0 1 255.04 294.09L269.21 242.62A149.94 145.95 0 0 0 256.44 239.87Z" fill="#425dab" stroke="#425dab" stroke-width="0.6"/>
<path d="M255.04 294.09A95.20 92.67 0 0 1 262.96 296.52L281.68 246.45A149.94 145.95 0 0 0 269.21 242.62Z" fill="#425dab" stroke="#425dab" stroke-width="0.6"/>
<path d="M262.96 296.52A95.20 92.67 0 0 1 270.63 299.62L293.77 251.32A149.94 145.95 0 0 0 281.68 246.45Z" fill="#72a1d1" stroke="#72a1d1" stroke-width="0.6"/>
<path d="M270.63 299.62A95.20 92.67 0 0 1 278.00 303.35L305.37 257.20A149.94 145.95 0 0 0 293.77 251.32Z" fill="#8ebbdd" stroke="#8ebbdd" stroke-width="0.6"/>
<path d="M278.00 303.35A95.20 92.67 0 0 1 285.00 307.69L316.40 264.04A149.94 145.95 0 0 0 305.37 257.20Z" fill="#5986c4" stroke="#5986c4" stroke-width="0.6"/>
<path d="M285.00 307.69A95.20 92.67 0 0 1 291.59 312.61L326.78 271.80A149.94 145.95 0 0 0 316.40 264.04Z" fill="#3b49a0" stroke="#3b49a0" stroke-width="0.6"/>
<path d="M291.59 312.61A95.20 92.67 0 0 1 297.72 318.07L336.42 280.40A149.94 145.95 0 0 0 326.78 271.80Z" fill="#5986c4" stroke="#5986c4" stroke-width="0.6"/>
<path d="M297.72 318.07A95.20 92.67 0 0 1 303.33 324.04L345.26 289.79A149.94 145.95 0 0 0 336.42 280.40Z" fill="#8ebbdd" stroke="#8ebbdd" stroke-width="0.6"/>
<path d="M303.33 324.04A95.20 92.67 0 0 1 308.38 330.45L353.22 299.89A149.94 145.95 0 0 0 345.26 289.79Z" fill="#72a1d1" stroke="#72a1d1" stroke-width="0.6"/>
<path d="M308.38 330.45A95.20 92.67 0 0 1 312.85 337.27L360.25 310.62A149.94 145.95 0 0 0 353.22 299.89Z" fill="#4c70b7" stroke="#4c70b7" stroke-width="0.6"/>
<path d="M312.85 337.27A95.20 92.67 0 0 1 316.68 344.44L366.29 321.92A149.94 145.95 0 0 0 360.25 310.62Z" fill="#3b49a0" stroke="#3b49a0" stroke-width="0.6"/>
<path d="M316.68 344.44A95.20 92.67 0 0 1 319.86 351.91L371.30 333.68A149.94 145.95 0 0 0 366.29 321.92Z" fill="#8ebbdd" stroke="#8ebbdd" stroke-width="0.6"/>
<path d="M319.86 351.91A95.20 92.67 0 0 1 322.36 359.62L375.23 345.83A149.94 145.95 0 0 0 371.30 333.68Z" fill="#c7e2ef" stroke="#c7e2ef" stroke-width="0.6"/>
<path d="M322.36 359.62A95.20 92.67 0 0 1 324.15 367.51L378.06 358.26A149.94 145.95 0 0 0 375.23 345.83Z" fill="#8ebbdd" stroke="#8ebbdd" stroke-width="0.6"/>
<path d="M324.15 367.51A95.20 92.67 0 0 1 325.24 375.52L379.77 370.88A149.94 145.95 0 0 0 378.06 358.26Z" fill="#72a1d1" stroke="#72a1d1" stroke-width="0.6"/>
<path d="M325.24 375.52A95.20 92.67 0 0 1 325.60 383.60L380.34 383.60A149.94 145.95 0 0 0 379.77 370.88Z" fill="#5986c4" stroke="#5986c4" stroke-width="0.6"/>
<path d="M325.60 383.60A95.20 92.67 0 0 1 325.24 391.68L379.77 396.32A149.94 145.95 0 0 0 380.34 383.60Z" fill="#5986c4" stroke="#5986c4" stroke-width="0.6"/>
<path d="M325.24 391.68A95.20 92.67 0 0 1 324.15 399.69L378.06 408.94A149.94 145.95 0 0 0 379.77 396.32Z" fill="#4c70b7" stroke="#4c70b7" stroke-width="0.6"/>
<path d="M324.15 399.69A95.20 92.67 0 0 1 322.36 407.58L375.23 421.37A149.94 145.95 0 0 0 378.06 408.94Z" fill="#4c70b7" stroke="#4c70b7" stroke-width="0.6"/>
<path d="M322.36 407.58A95.20 92.67 0 0 1 319.86 415.29L371.30 433.52A149.94 145.95 0 0 0 375.23 421.37Z" fill="#425dab" stroke="#425dab" stroke-width="0.6"/>
<path d="M319.86 415.29A95.20 92.67 0 0 1 316.68 422.76L366.29 445.28A149.94 145.95 0 0 0 371.30 433.52Z" fill="#3c4ba1" stroke="#3c4ba1" stroke-width="0.6"/>
<path d="M316.68 422.76A95.20 92.67 0 0 1 312.85 429.93L360.25 456.57A149.94 145.95 0 0 0 366.29 445.28Z" fill="#3c4ba1" stroke="#3c4ba1" stroke-width="0.6"/>
<path d="M312.85 429.93A95.20 92.67 0 0 1 308.38 436.75L353.22 467.31A149.94 145.95 0 0 0 360.25 456.57Z" fill="#3b49a0" stroke="#3b49a0" stroke-width="0.6"/>
<path d="M308.38 436.75A95.20 92.67 0 0 1 303.33 443.16L345.26 477.41A149.94 145.95 0 0 0 353.22 467.31Z" fill="#3b49a0" stroke="#3b49a0" stroke-width="0.6"/>
<path d="M303.33 443.16A95.20 92.67 0 0 1 297.72 449.13L336.42 486.80A149.94 145.95 0 0 0 345.26 477.41Z" fill="#425dab" stroke="#425dab" stroke-width="0.6"/>
<path d="M297.72 449.13A95.20 92.67 0 0 1 291.59 454.59L326.78 495.40A149.94 145.95 0 0 0 336.42 486.80Z" fill="#c7e2ef" stroke="#c7e2ef" stroke-width="0.6"/>
<path d="M291.59 454.59A95.20 92.67 0 0 1 285.00 459.51L316.40 503.16A149.94 145.95 0 0 0 326.78 495.40Z" fill="#dcedf5" stroke="#dcedf5" stroke-width="0.6"/>
<path d="M285.00 459.51A95.20 92.67 0 0 1 278.00 463.85L305.37 510.00A149.94 145.95 0 0 0 316.40 503.16Z" fill="#425dab" stroke="#425dab" stroke-width="0.6"/>
<path d="M278.00 463.85A95.20 92.67 0 0 1 270.63 467.58L293.77 515.88A149.94 145.95 0 0 0 305.37 510.00Z" fill="#72a1d1" stroke="#72a1d1" stroke-width="0.6"/>
<path d="M270.63 467.58A95.20 92.67 0 0 1 262.96 470.68L281.68 520.75A149.94 145.95 0 0 0 293.77 515.88Z" fill="#425dab" stroke="#425dab" stroke-width="0.6"/>
<path d="M262.96 470.68A95.20 92.67 0 0 1 255.04 473.11L269.21 524.58A149.94 145.95 0 0 0 281.68 520.75Z" fill="#72a1d1" stroke="#72a1d1" stroke-width="0.6"/>
<path d="M255.04 473.11A95.20 92.67 0 0 1 246.93 474.86L256.44 527.33A149.94 145.95 0 0 0 269.21 524.58Z" fill="#425dab" stroke="#425dab" stroke-width="0.6"/>
<path d="M246.93 474.86A95.20 92.67 0 0 1 238.70 475.91L243.47 528.99A149.94 145.95 0 0 0 256.44 527.33Z" fill="#5986c4" stroke="#5986c4" stroke-width="0.6"/>
<path d="M238.70 475.91A95.20 92.67 0 0 1 230.40 476.27L230.40 529.55A149.94 145.95 0 0 0 243.47 528.99Z" fill="#8ebbdd" stroke="#8ebbdd" stroke-width="0.6"/>
<path d="M230.40 476.27A95.20 92.67 0 0 1 222.10 475.91L217.33 528.99A149.94 145.95 0 0 0 230.40 529.55Z" fill="#8ebbdd" stroke="#8ebbdd" stroke-width="0.6"/>
<path d="M222.10 475.91A95.20 92.67 0 0 1 213.87 474.86L204.36 527.33A149.94 145.95 0 0 0 217.33 528.99Z" fill="#425dab" stroke="#425dab" stroke-width="0.6"/>
<path d="M213.87 474.86A95.20 92.67 0 0 1 205.76 473.11L191.59 524.58A149.94 145.95 0 0 0 204.36 527.33Z" fill="#add3e7" stroke="#add3e7" stroke-width="0.6"/>
<path d="M205.76 473.11A95.20 92.67 0 0 1 197.84 470.68L179.12 520.75A149.94 145.95 0 0 0 191.59 524.58Z" fill="#add3e7" stroke="#add3e7" stroke-width="0.6"/>
<path d="M197.84 470.68A95.20 92.67 0 0 1 190.17 467.58L167.03 515.88A149.94 145.95 0 0 0 179.12 520.75Z" fill="#72a1d1" stroke="#72a1d1" stroke-width="0.6"/>
<path d="M190.17 467.58A95.20 92.67 0 0 1 182.80 463.85L155.43 510.00A149.94 145.95 0 0 0 167.03 515.88Z" fill="#425dab" stroke="#425dab" stroke-width="0.6"/>
<path d="M182.80 463.85A95.20 92.67 0 0 1 175.80 459.51L144.40 503.16A149.94 145.95 0 0 0 155.43 510.00Z" fill="#425dab" stroke="#425dab" stroke-width="0.6"/>
<path d="M175.80 459.51A95.20 92.67 0 0 1 169.21 454.59L134.02 495.40A149.94 145.95 0 0 0 144.40 503.16Z" fill="#425dab" stroke="#425dab" stroke-width="0.6"/>
<path d="M169.21 454.59A95.20 92.67 0 0 1 163.08 449.13L124.38 486.80A149.94 145.95 0 0 0 134.02 495.40Z" fill="#4c70b7" stroke="#4c70b7" stroke-width="0.6"/>
<path d="M163.08 449.13A95.20 92.67 0 0 1 157.47 443.16L115.54 477.41A149.94 145.95 0 0 0 124.38 486.80Z" fill="#72a1d1" stroke="#72a1d1" stroke-width="0.6"/>
<path d="M157.47 443.16A95.20 92.67 0 0 1 152.42 436.75L107.58 467.31A149.94 145.95 0 0 0 115.54 477.41Z" fill="#add3e7" stroke="#add3e7" stroke-width="0.6"/>
<path d="M152.42 436.75A95.20 92.67 0 0 1 147.95 429.93L100.55 456.58A149.94 145.95 0 0 0 107.58 467.31Z" fill="#c7e2ef" stroke="#c7e2ef" stroke-width="0.6"/>
<path d="M147.95 429.93A95.20 92.67 0 0 1 144.12 422.76L94.51 445.28A149.94 145.95 0 0 0 100.55 456.58Z" fill="#72a1d1" stroke="#72a1d1" stroke-width="0.6"/>
<path d="M144.12 422.76A95.20 92.67 0 0 1 140.94 415.29L89.50 433.52A149.94 145.95 0 0 0 94.51 445.28Z" fill="#5986c4" stroke="#5986c4" stroke-width="0.6"/>
<path d="M140.94 415.29A95.20 92.67 0 0 1 138.44 407.58L85.57 421.37A149.94 145.95 0 0 0 89.50 433.52Z" fill="#3b49a0" stroke="#3b49a0" stroke-width="0.6"/>
<path d="M138.44 407.58A95.20 92.67 0 0 1 136.65 399.69L82.74 408.94A149.94 145.95 0 0 0 85.57 421.37Z" fill="#425dab" stroke="#425dab" stroke-width="0.6"/>
<path d="M136.65 399.69A95.20 92.67 0 0 1 135.56 391.68L81.03 396.32A149.94 145.95 0 0 0 82.74 408.94Z" fill="#8ebbdd" stroke="#8ebbdd" stroke-width="0.6"/>
<path d="M135.56 391.68A95.20 92.67 0 0 1 135.20 383.60L80.46 383.60A149.94 145.95 0 0 0 81.03 396.32Z" fill="#c7e2ef" stroke="#c7e2ef" stroke-width="0.6"/>
<path d="M135.20 383.60A95.20 92.67 0 0 1 135.56 375.52L81.03 370.88A149.94 145.95 0 0 0 80.46 383.60Z" fill="#8ebbdd" stroke="#8ebbdd" stroke-width="0.6"/>
<path d="M135.56 375.52A95.20 92.67 0 0 1 136.65 367.51L82.74 358.26A149.94 145.95 0 0 0 81.03 370.88Z" fill="#3b49a0" stroke="#3b49a0" stroke-width="0.6"/>
<path d="M136.65 367.51A95.20 92.67 0 0 1 138.44 359.62L85.57 345.83A149.94 145.95 0 0 0 82.74 358.26Z" fill="#3b49a0" stroke="#3b49a0" stroke-width="0.6"/>
<path d="M138.44 359.62A95.20 92.67 0 0 1 140.94 351.91L89.50 333.68A149.94 145.95 0 0 0 85.57 345.83Z" fill="#4c70b7" stroke="#4c70b7" stroke-width="0.6"/>
<path d="M140.94 351.91A95.20 92.67 0 0 1 144.12 344.44L94.51 321.92A149.94 145.95 0 0 0 89.50 333.68Z" fill="#8ebbdd" stroke="#8ebbdd" stroke-width="0.6"/>
<path d="M144.12 344.44A95.20 92.67 0 0 1 147.95 337.27L100.55 310.62A149.94 145.95 0 0 0 94.51 321.92Z" fill="#72a1d1" stroke="#72a1d1" stroke-width="0.6"/>
<path d="M147.95 337.27A95.20 92.67 0 0 1 152.42 330.45L107.58 299.89A149.94 145.95 0 0 0 100.55 310.62Z" fill="#5986c4" stroke="#5986c4" stroke-width="0.6"/>
<path d="M152.42 330.45A95.20 92.67 0 0 1 157.47 324.04L115.54 289.79A149.94 145.95 0 0 0 107.58 299.89Z" fill="#4c70b7" stroke="#4c70b7" stroke-width="0.6"/>
<path d="M157.47 324.04A95.20 92.67 0 0 1 163.08 318.07L124.38 280.40A149.94 145.95 0 0 0 115.54 289.79Z" fill="#5986c4" stroke="#5986c4" stroke-width="0.6"/>
<path d="M163.08 318.07A95.20 92.67 0 0 1 169.21 312.61L134.02 271.80A149.94 145.95 0 0 0 124.38 280.40Z" fill="#425dab" stroke="#425dab" stroke-width="0.6"/>
<path d="M169.21 312.61A95.20 92.67 0 0 1 175.80 307.69L144.40 264.04A149.94 145.95 0 0 0 134.02 271.80Z" fill="#425dab" stroke="#425dab" stroke-width="0.6"/>
<path d="M175.80 307.69A95.20 92.67 0 0 1 182.80 303.35L155.43 257.20A149.94 145.95 0 0 0 144.40 264.04Z" fill="#72a1d1" stroke="#72a1d1" stroke-width="0.6"/>
<path d="M182.80 303.35A95.20 92.67 0 0 1 190.17 299.62L167.03 251.32A149.94 145.95 0 0 0 155.43 257.20Z" fill="#8ebbdd" stroke="#8ebbdd" stroke-width="0.6"/>
<path d="M190.17 299.62A95.20 92.67 0 0 1 197.84 296.52L179.12 246.45A149.94 145.95 0 0 0 167.03 251.32Z" fill="#5986c4" stroke="#5986c4" stroke-width="0.6"/>
<path d="M197.84 296.52A95.20 92.67 0 0 1 205.76 294.09L191.59 242.62A149.94 145.95 0 0 0 179.12 246.45Z" fill="#3c4ba1" stroke="#3c4ba1" stroke-width="0.6"/>
<path d="M205.76 294.09A95.20 92.67 0 0 1 213.87 292.34L204.36 239.87A149.94 145.95 0 0 0 191.59 242.62Z" fill="#4c70b7" stroke="#4c70b7" stroke-width="0.6"/>
<path d="M213.87 292.34A95.20 92.67 0 0 1 222.10 291.29L217.33 238.21A149.94 145.95 0 0 0 204.36 239.87Z" fill="#72a1d1" stroke="#72a1d1" stroke-width="0.6"/>
<path d="M222.10 291.29A95.20 92.67 0 0 1 230.40 290.93L230.40 237.65A149.94 145.95 0 0 0 217.33 238.21Z" fill="#8ebbdd" stroke="#8ebbdd" stroke-width="0.6"/>
</g>
<path d="M230.4 383.6L230.4 244.6M230.4 383.6L331.4 285.3M230.4 383.6L373.2 383.6M230.4 383.6L331.4 481.9M230.4 383.6L230.4 522.6M230.4 383.6L129.4 481.9M230.4 383.6L87.6 383.6M230.4 383.6L129.4 285.3" stroke="#eee8aa" stroke-width="1" fill="none"/>
<ellipse cx="230.4" cy="383.6" rx="47.6" ry="46.3" stroke="#eee8aa" stroke-width="1" fill="none"/>
<ellipse cx="230.4" cy="383.6" rx="95.2" ry="92.7" stroke="#eee8aa" stroke-width="1" fill="none"/>
<ellipse cx="230.4" cy="383.6" rx="142.8" ry="139.0" stroke="#eee8aa" stroke-width="1" fill="none"/>
<path d="M230.7 383.3L293 408" stroke="#ffa000" stroke-width="1" fill="none"/>
<path d="M295.3 400.5L300.1 401.4L300.6 405.8L298 410.2L295.8 417.2L294.4 422.5L290.9 428.6L289.2 433L284.8 431.2L285.6 427.7L289.2 424.2L290.9 417.2L291.8 410.2L291.8 406.6Z" fill="#ffa000"/>
<path d="M209.1 254.6h7M212.6 251.1v7M236.1 279.6h7M239.6 276.1v7M300.0 272.8h7M303.5 269.3v7M159.9 289.6h7M163.4 286.1v7M142.0 324.0h7M145.5 320.5v7M158.0 327.1h7M161.5 323.6v7M178.3 327.8h7M181.8 324.3v7M188.6 317.8h7M192.1 314.3v7M214.9 313.4h7M218.4 309.9v7M223.6 309.6h7M227.1 306.1v7M254.3 306.5h7M257.8 303.0v7M256.0 308.0h7M259.5 304.5v7M254.9 335.9h7M258.4 332.4v7M226.5 341.0h7M230.0 337.5v7M240.3 354.0h7M243.8 350.5v7M249.0 371.9h7M252.5 368.4v7M302.8 333.4h7M306.3 329.9v7M329.0 318.8h7M332.5 315.3v7M351.3 324.6h7M354.8 321.1v7M121.3 339.4h7M124.8 335.9v7M132.0 347.5h7M135.5 344.0v7M107.6 359.4h7M111.1 355.9v7M114.5 356.9h7M118.0 353.4v7M122.6 376.3h7M126.1 372.8v7M154.5 355.0h7M158.0 351.5v7M176.5 355.0h7M180.0 351.5v7M160.8 363.1h7M164.3 359.6v7M166.4 369.4h7M169.9 365.9v7M149.5 390.0h7M153.0 386.5v7M144.5 401.0h7M148.0 397.5v7M153.9 393.8h7M157.4 390.3v7M163.9 401.3h7M167.4 397.8v7M174.5 398.8h7M178.0 395.3v7M192.4 382.5h7M195.9 379.0v7M195.5 380.6h7M199.0 377.1v7M226.8 400.6h7M230.3 397.1v7M194.5 412.0h7M198.0 408.5v7M205.5 412.0h7M209.0 408.5v7M199.9 424.4h7M203.4 420.9v7M295.9 355.6h7M299.4 352.1v7M318.4 359.4h7M321.9 355.9v7M337.1 371.3h7M340.6 367.8v7M368.4 379.4h7M371.9 375.9v7M325.9 419.4h7M329.4 415.9v7M355.3 430.0h7M358.8 426.5v7M304.0 428.8h7M307.5 425.3v7M300.9 439.1h7M304.4 435.6v7M134.2 435.2h7M137.7 431.7v7M137.5 434.0h7M141.0 430.5v7M144.8 432.6h7M148.3 429.1v7M155.1 461.6h7M158.6 458.1v7M164.5 481.6h7M168.0 478.1v7M143.9 488.5h7M147.4 485.0v7M152.6 488.5h7M156.1 485.0v7M158.3 490.4h7M161.8 486.9v7M264.9 446.6h7M268.4 443.1v7M251.1 517.9h7M254.6 514.4v7M305.3 461.0h7M308.8 457.5v7M303.4 469.1h7M306.9 465.6v7M309.6 478.5h7M313.1 475.0v7M320.9 486.6h7M324.4 483.1v7" stroke="#00ff00" stroke-width="1.2" fill="none"/>
<text class="sat" x="197.2" y="245.6" fill="#00ff00" stroke="#00ff00" stroke-width="0.2" font-size="13.5" textLength="30.8" lengthAdjust="spacing">J195</text>
<text class="sat" x="228.0" y="270.6" fill="#00ff00" stroke="#00ff00" stroke-width="0.2" font-size="13.5" textLength="23.1" lengthAdjust="spacing">E36</text>
<text class="sat" x="291.9" y="263.8" fill="#00ff00" stroke="#00ff00" stroke-width="0.2" font-size="13.5" textLength="23.1" lengthAdjust="spacing">R05</text>
<text class="sat" x="151.8" y="280.6" fill="#00ff00" stroke="#00ff00" stroke-width="0.2" font-size="13.5" textLength="23.1" lengthAdjust="spacing">G14</text>
<text class="sat" x="133.9" y="315.0" fill="#00ff00" stroke="#00ff00" stroke-width="0.2" font-size="13.5" textLength="23.1" lengthAdjust="spacing">R18</text>
<text class="sat" x="149.9" y="318.1" fill="#00ff00" stroke="#00ff00" stroke-width="0.2" font-size="13.5" textLength="23.1" lengthAdjust="spacing">C03</text>
<text class="sat" x="170.2" y="318.8" fill="#00ff00" stroke="#00ff00" stroke-width="0.2" font-size="13.5" textLength="23.1" lengthAdjust="spacing">C38</text>
<text class="sat" x="176.7" y="308.8" fill="#00ff00" stroke="#00ff00" stroke-width="0.2" font-size="13.5" textLength="30.8" lengthAdjust="spacing">J199</text>
<text class="sat" x="206.8" y="304.4" fill="#00ff00" stroke="#00ff00" stroke-width="0.2" font-size="13.5" textLength="23.1" lengthAdjust="spacing">C59</text>
<text class="sat" x="215.5" y="300.6" fill="#00ff00" stroke="#00ff00" stroke-width="0.2" font-size="13.5" textLength="23.1" lengthAdjust="spacing">C01</text>
<text class="sat" x="246.2" y="297.5" fill="#00ff00" stroke="#00ff00" stroke-width="0.2" font-size="13.5" textLength="23.1" lengthAdjust="spacing">C61</text>
<text class="sat" x="247.9" y="299.0" fill="#00ff00" stroke="#00ff00" stroke-width="0.2" font-size="13.5" textLength="23.1" lengthAdjust="spacing">C02</text>
<text class="sat" x="246.8" y="326.9" fill="#00ff00" stroke="#00ff00" stroke-width="0.2" font-size="13.5" textLength="23.1" lengthAdjust="spacing">R27</text>
<text class="sat" x="214.6" y="332.0" fill="#00ff00" stroke="#00ff00" stroke-width="0.2" font-size="13.5" textLength="30.8" lengthAdjust="spacing">J196</text>
<text class="sat" x="232.2" y="345.0" fill="#00ff00" stroke="#00ff00" stroke-width="0.2" font-size="13.5" textLength="23.1" lengthAdjust="spacing">R06</text>
<text class="sat" x="240.9" y="362.9" fill="#00ff00" stroke="#00ff00" stroke-width="0.2" font-size="13.5" textLength="23.1" lengthAdjust="spacing">G09</text>
<text class="sat" x="294.8" y="324.4" fill="#00ff00" stroke="#00ff00" stroke-width="0.2" font-size="13.5" textLength="23.1" lengthAdjust="spacing">G04</text>
<text class="sat" x="320.9" y="309.8" fill="#00ff00" stroke="#00ff00" stroke-width="0.2" font-size="13.5" textLength="23.1" lengthAdjust="spacing">E24</text>
<text class="sat" x="343.2" y="315.6" fill="#00ff00" stroke="#00ff00" stroke-width="0.2" font-size="13.5" textLength="23.1" lengthAdjust="spacing">C43</text>
<text class="sat" x="109.4" y="330.4" fill="#00ff00" stroke="#00ff00" stroke-width="0.2" font-size="13.5" textLength="30.8" lengthAdjust="spacing">J209</text>
<text class="sat" x="124.0" y="338.5" fill="#00ff00" stroke="#00ff00" stroke-width="0.2" font-size="13.5" textLength="23.1" lengthAdjust="spacing">C56</text>
<text class="sat" x="99.5" y="350.4" fill="#00ff00" stroke="#00ff00" stroke-width="0.2" font-size="13.5" textLength="23.1" lengthAdjust="spacing">C60</text>
<text class="sat" x="106.5" y="347.9" fill="#00ff00" stroke="#00ff00" stroke-width="0.2" font-size="13.5" textLength="23.1" lengthAdjust="spacing">C02</text>
<text class="sat" x="114.5" y="367.3" fill="#00ff00" stroke="#00ff00" stroke-width="0.2" font-size="13.5" textLength="23.1" lengthAdjust="spacing">C09</text>
<text class="sat" x="146.4" y="346.0" fill="#00ff00" stroke="#00ff00" stroke-width="0.2" font-size="13.5" textLength="23.1" lengthAdjust="spacing">C37</text>
<text class="sat" x="168.4" y="346.0" fill="#00ff00" stroke="#00ff00" stroke-width="0.2" font-size="13.5" textLength="23.1" lengthAdjust="spacing">C08</text>
<text class="sat" x="152.8" y="354.1" fill="#00ff00" stroke="#00ff00" stroke-width="0.2" font-size="13.5" textLength="23.1" lengthAdjust="spacing">E34</text>
<text class="sat" x="158.3" y="360.4" fill="#00ff00" stroke="#00ff00" stroke-width="0.2" font-size="13.5" textLength="23.1" lengthAdjust="spacing">C19</text>
<text class="sat" x="141.4" y="381.0" fill="#00ff00" stroke="#00ff00" stroke-width="0.2" font-size="13.5" textLength="23.1" lengthAdjust="spacing">C26</text>
<text class="sat" x="136.4" y="392.0" fill="#00ff00" stroke="#00ff00" stroke-width="0.2" font-size="13.5" textLength="23.1" lengthAdjust="spacing">G00</text>
<text class="sat" x="145.8" y="384.8" fill="#00ff00" stroke="#00ff00" stroke-width="0.2" font-size="13.5" textLength="23.1" lengthAdjust="spacing">G06</text>
<text class="sat" x="155.8" y="392.3" fill="#00ff00" stroke="#00ff00" stroke-width="0.2" font-size="13.5" textLength="23.1" lengthAdjust="spacing">E02</text>
<text class="sat" x="166.4" y="389.8" fill="#00ff00" stroke="#00ff00" stroke-width="0.2" font-size="13.5" textLength="23.1" lengthAdjust="spacing">E22</text>
<text class="sat" x="184.3" y="373.5" fill="#00ff00" stroke="#00ff00" stroke-width="0.2" font-size="13.5" textLength="23.1" lengthAdjust="spacing">R09</text>
<text class="sat" x="187.4" y="371.6" fill="#00ff00" stroke="#00ff00" stroke-width="0.2" font-size="13.5" textLength="23.1" lengthAdjust="spacing">R02</text>
<text class="sat" x="218.8" y="391.6" fill="#00ff00" stroke="#00ff00" stroke-width="0.2" font-size="13.5" textLength="23.1" lengthAdjust="spacing">C28</text>
<text class="sat" x="186.4" y="403.0" fill="#00ff00" stroke="#00ff00" stroke-width="0.2" font-size="13.5" textLength="23.1" lengthAdjust="spacing">E06</text>
<text class="sat" x="197.4" y="403.0" fill="#00ff00" stroke="#00ff00" stroke-width="0.2" font-size="13.5" textLength="23.1" lengthAdjust="spacing">G07</text>
<text class="sat" x="191.8" y="415.4" fill="#00ff00" stroke="#00ff00" stroke-width="0.2" font-size="13.5" textLength="23.1" lengthAdjust="spacing">R07</text>
<text class="sat" x="284.0" y="346.6" fill="#00ff00" stroke="#00ff00" stroke-width="0.2" font-size="13.5" textLength="30.8" lengthAdjust="spacing">J193</text>
<text class="sat" x="310.3" y="350.4" fill="#00ff00" stroke="#00ff00" stroke-width="0.2" font-size="13.5" textLength="23.1" lengthAdjust="spacing">C08</text>
<text class="sat" x="329.1" y="362.3" fill="#00ff00" stroke="#00ff00" stroke-width="0.2" font-size="13.5" textLength="23.1" lengthAdjust="spacing">E31</text>
<text class="sat" x="360.3" y="370.4" fill="#00ff00" stroke="#00ff00" stroke-width="0.2" font-size="13.5" textLength="23.1" lengthAdjust="spacing">C11</text>
<text class="sat" x="317.8" y="410.4" fill="#00ff00" stroke="#00ff00" stroke-width="0.2" font-size="13.5" textLength="23.1" lengthAdjust="spacing">G27</text>
<text class="sat" x="347.2" y="421.0" fill="#00ff00" stroke="#00ff00" stroke-width="0.2" font-size="13.5" textLength="23.1" lengthAdjust="spacing">C34</text>
<text class="sat" x="295.9" y="419.8" fill="#00ff00" stroke="#00ff00" stroke-width="0.2" font-size="13.5" textLength="23.1" lengthAdjust="spacing">E05</text>
<text class="sat" x="292.8" y="430.1" fill="#00ff00" stroke="#00ff00" stroke-width="0.2" font-size="13.5" textLength="23.1" lengthAdjust="spacing">C25</text>
<text class="sat" x="126.1" y="426.2" fill="#00ff00" stroke="#00ff00" stroke-width="0.2" font-size="13.5" textLength="23.1" lengthAdjust="spacing">E19</text>
<text class="sat" x="129.4" y="425.0" fill="#00ff00" stroke="#00ff00" stroke-width="0.2" font-size="13.5" textLength="23.1" lengthAdjust="spacing">E03</text>
<text class="sat" x="136.8" y="423.6" fill="#00ff00" stroke="#00ff00" stroke-width="0.2" font-size="13.5" textLength="23.1" lengthAdjust="spacing">C21</text>
<text class="sat" x="147.0" y="452.6" fill="#00ff00" stroke="#00ff00" stroke-width="0.2" font-size="13.5" textLength="23.1" lengthAdjust="spacing">C20</text>
<text class="sat" x="156.4" y="472.6" fill="#00ff00" stroke="#00ff00" stroke-width="0.2" font-size="13.5" textLength="23.1" lengthAdjust="spacing">R26</text>
<text class="sat" x="135.8" y="479.5" fill="#00ff00" stroke="#00ff00" stroke-width="0.2" font-size="13.5" textLength="23.1" lengthAdjust="spacing">C40</text>
<text class="sat" x="144.5" y="479.5" fill="#00ff00" stroke="#00ff00" stroke-width="0.2" font-size="13.5" textLength="23.1" lengthAdjust="spacing">R03</text>
<text class="sat" x="150.2" y="481.4" fill="#00ff00" stroke="#00ff00" stroke-width="0.2" font-size="13.5" textLength="23.1" lengthAdjust="spacing">C23</text>
<text class="sat" x="256.8" y="437.6" fill="#00ff00" stroke="#00ff00" stroke-width="0.2" font-size="13.5" textLength="23.1" lengthAdjust="spacing">R16</text>
<text class="sat" x="243.0" y="508.9" fill="#00ff00" stroke="#00ff00" stroke-width="0.2" font-size="13.5" textLength="23.1" lengthAdjust="spacing">E21</text>
<text class="sat" x="297.2" y="452.0" fill="#00ff00" stroke="#00ff00" stroke-width="0.2" font-size="13.5" textLength="23.1" lengthAdjust="spacing">G16</text>
<text class="sat" x="295.3" y="460.1" fill="#00ff00" stroke="#00ff00" stroke-width="0.2" font-size="13.5" textLength="23.1" lengthAdjust="spacing">E23</text>
<text class="sat" x="301.6" y="469.5" fill="#00ff00" stroke="#00ff00" stroke-width="0.2" font-size="13.5" textLength="23.1" lengthAdjust="spacing">H18</text>
<text class="sat" x="312.8" y="477.6" fill="#00ff00" stroke="#00ff00" stroke-width="0.2" font-size="13.5" textLength="23.1" lengthAdjust="spacing">R17</text>
</svg></body></html>
